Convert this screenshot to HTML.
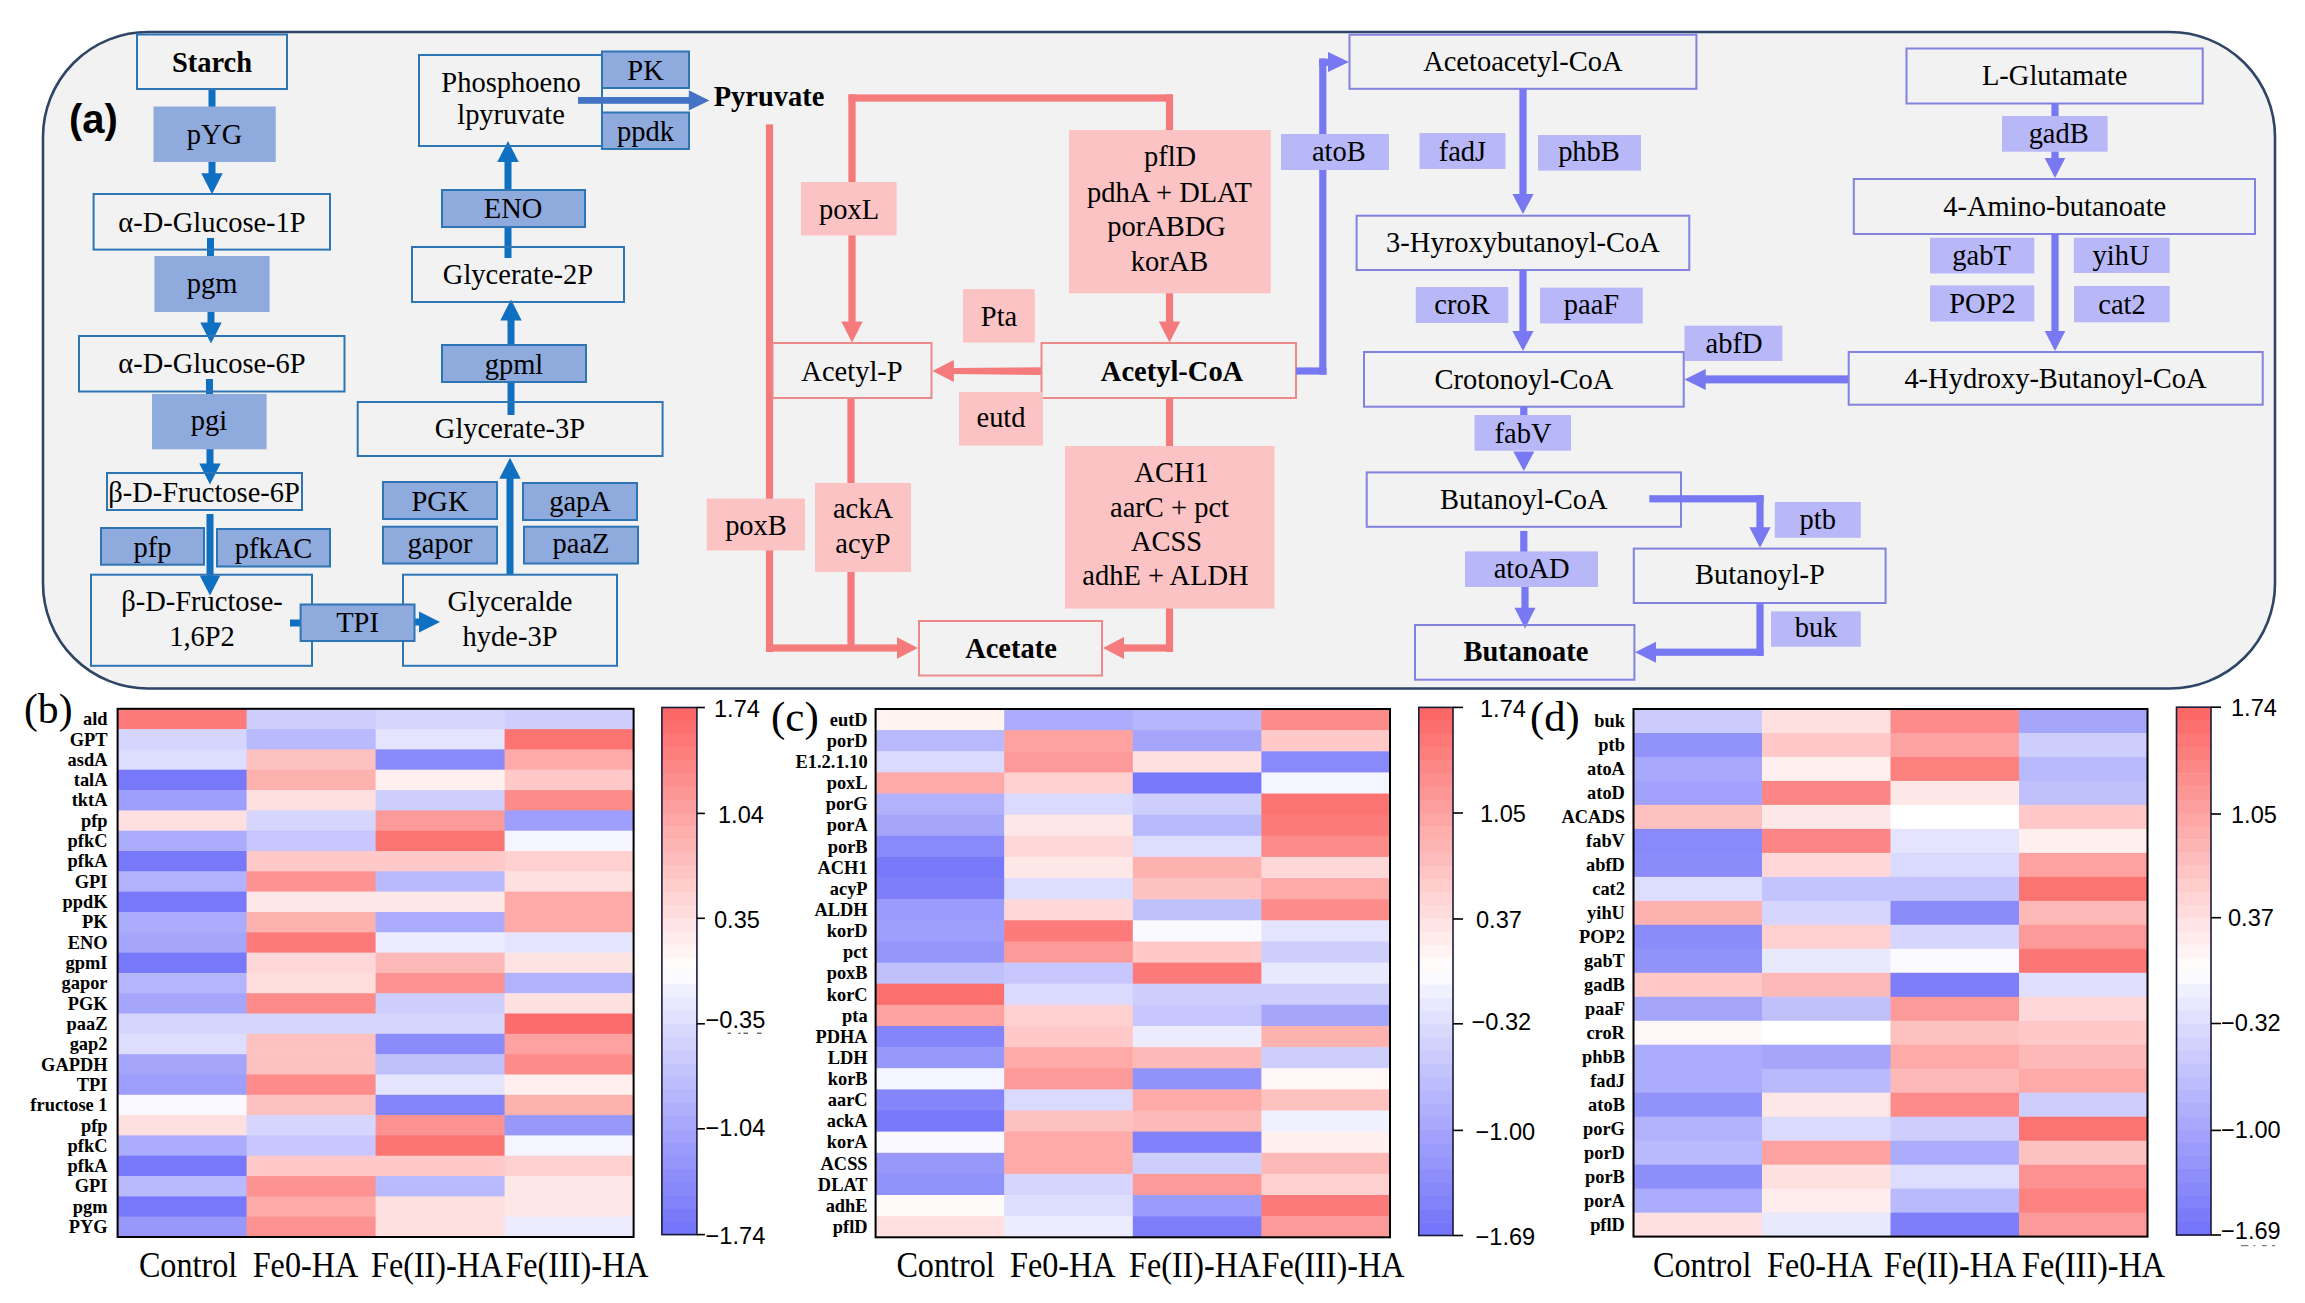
<!DOCTYPE html>
<html><head><meta charset="utf-8"><style>
html,body{margin:0;padding:0;background:#fff;}
body{width:2305px;height:1303px;overflow:hidden;}
svg{display:block;}
</style></head><body>
<svg width="2305" height="1303" viewBox="0 0 2305 1303">
<rect x="0" y="0" width="2305" height="1303" fill="#ffffff"/>
<rect x="43" y="32" width="2232" height="656.5" rx="105" ry="105" fill="#f2f2f2" stroke="#2e4566" stroke-width="2.6"/>
<text x="69" y="133" font-family="Liberation Sans" font-size="40" font-weight="bold" fill="#000">(a)</text>
<rect x="208.5" y="89.0" width="7.0" height="18.0" fill="#0f6fc0"/>
<rect x="208.5" y="162.0" width="7.0" height="13.0" fill="#0f6fc0"/>
<polygon points="212.0,194.3 201.3,173.3 222.7,173.3" fill="#0f6fc0"/>
<rect x="207.0" y="238.0" width="7.0" height="18.0" fill="#0f6fc0"/>
<rect x="207.5" y="312.0" width="7.0" height="12.0" fill="#0f6fc0"/>
<polygon points="211.0,343.4 200.3,322.4 221.7,322.4" fill="#0f6fc0"/>
<rect x="206.0" y="379.0" width="7.0" height="15.0" fill="#0f6fc0"/>
<rect x="206.5" y="449.0" width="7.0" height="16.0" fill="#0f6fc0"/>
<polygon points="210.0,484.4 199.3,463.4 220.7,463.4" fill="#0f6fc0"/>
<rect x="206.5" y="514.0" width="7.0" height="63.0" fill="#0f6fc0"/>
<polygon points="210.0,595.5 199.7,575.5 220.3,575.5" fill="#0f6fc0"/>
<rect x="290.0" y="619.5" width="11.0" height="7.0" fill="#0f6fc0"/>
<rect x="414.0" y="618.5" width="6.0" height="7.0" fill="#0f6fc0"/>
<polygon points="440.0,622.0 419.0,611.4 419.0,632.6" fill="#0f6fc0"/>
<rect x="506.5" y="477.0" width="7.0" height="98.0" fill="#0f6fc0"/>
<polygon points="510.0,457.8 499.3,478.8 520.7,478.8" fill="#0f6fc0"/>
<rect x="507.5" y="382.0" width="7.0" height="33.0" fill="#0f6fc0"/>
<rect x="507.5" y="318.0" width="7.0" height="27.0" fill="#0f6fc0"/>
<polygon points="511.0,299.4 500.3,320.4 521.7,320.4" fill="#0f6fc0"/>
<rect x="504.5" y="227.0" width="7.0" height="31.0" fill="#0f6fc0"/>
<rect x="504.5" y="160.0" width="7.0" height="30.0" fill="#0f6fc0"/>
<polygon points="508.0,141.0 497.3,162.0 518.7,162.0" fill="#0f6fc0"/>
<rect x="137.0" y="34.5" width="150.0" height="54.5" fill="none" stroke="#2e75b6" stroke-width="2"/>
<text transform="translate(212.0,72.0) scale(1,1.07)" x="0" y="0" font-family="Liberation Serif" font-size="28.5" font-weight="bold" text-anchor="middle" fill="#000">Starch</text>
<rect x="153.5" y="106.5" width="122.2" height="55.5" fill="#8faadc" stroke="none" stroke-width="2"/>
<text transform="translate(214.5,144.3) scale(1,1.07)" x="0" y="0" font-family="Liberation Serif" font-size="28.5" font-weight="normal" text-anchor="middle" fill="#000">pYG</text>
<rect x="93.6" y="194.0" width="236.4" height="55.6" fill="none" stroke="#2e75b6" stroke-width="2"/>
<text transform="translate(212.0,231.5) scale(1,1.07)" x="0" y="0" font-family="Liberation Serif" font-size="28.5" font-weight="normal" text-anchor="middle" fill="#000">α-D-Glucose-1P</text>
<rect x="154.4" y="256.0" width="115.2" height="56.0" fill="#8faadc" stroke="none" stroke-width="2"/>
<text transform="translate(212.0,293.2) scale(1,1.07)" x="0" y="0" font-family="Liberation Serif" font-size="28.5" font-weight="normal" text-anchor="middle" fill="#000">pgm</text>
<rect x="79.0" y="336.0" width="265.5" height="55.5" fill="none" stroke="#2e75b6" stroke-width="2"/>
<text transform="translate(212.0,373.0) scale(1,1.07)" x="0" y="0" font-family="Liberation Serif" font-size="28.5" font-weight="normal" text-anchor="middle" fill="#000">α-D-Glucose-6P</text>
<rect x="152.0" y="394.0" width="114.6" height="55.3" fill="#8faadc" stroke="none" stroke-width="2"/>
<text transform="translate(209.0,429.8) scale(1,1.07)" x="0" y="0" font-family="Liberation Serif" font-size="28.5" font-weight="normal" text-anchor="middle" fill="#000">pgi</text>
<rect x="107.0" y="473.0" width="195.0" height="37.0" fill="none" stroke="#2e75b6" stroke-width="2"/>
<text transform="translate(204.0,501.5) scale(1,1.07)" x="0" y="0" font-family="Liberation Serif" font-size="28.5" font-weight="normal" text-anchor="middle" fill="#000">β-D-Fructose-6P</text>
<rect x="101.0" y="528.0" width="103.0" height="36.7" fill="#8faadc" stroke="#2e75b6" stroke-width="2"/>
<text transform="translate(152.5,556.5) scale(1,1.07)" x="0" y="0" font-family="Liberation Serif" font-size="28.5" font-weight="normal" text-anchor="middle" fill="#000">pfp</text>
<rect x="217.0" y="529.0" width="113.0" height="37.5" fill="#8faadc" stroke="#2e75b6" stroke-width="2"/>
<text transform="translate(273.5,558.0) scale(1,1.07)" x="0" y="0" font-family="Liberation Serif" font-size="28.5" font-weight="normal" text-anchor="middle" fill="#000">pfkAC</text>
<rect x="91.0" y="574.7" width="221.0" height="91.1" fill="none" stroke="#2e75b6" stroke-width="2"/>
<text transform="translate(202.0,611.0) scale(1,1.07)" x="0" y="0" font-family="Liberation Serif" font-size="28.5" font-weight="normal" text-anchor="middle" fill="#000">β-D-Fructose-</text>
<text transform="translate(202.0,646.0) scale(1,1.07)" x="0" y="0" font-family="Liberation Serif" font-size="28.5" font-weight="normal" text-anchor="middle" fill="#000">1,6P2</text>
<rect x="403.0" y="574.7" width="214.0" height="91.1" fill="none" stroke="#2e75b6" stroke-width="2"/>
<text transform="translate(510.0,611.0) scale(1,1.07)" x="0" y="0" font-family="Liberation Serif" font-size="28.5" font-weight="normal" text-anchor="middle" fill="#000">Glyceralde</text>
<text transform="translate(510.0,646.0) scale(1,1.07)" x="0" y="0" font-family="Liberation Serif" font-size="28.5" font-weight="normal" text-anchor="middle" fill="#000">hyde-3P</text>
<rect x="300.6" y="604.5" width="113.9" height="36.5" fill="#8faadc" stroke="#2e75b6" stroke-width="2"/>
<text transform="translate(357.5,632.4) scale(1,1.07)" x="0" y="0" font-family="Liberation Serif" font-size="28.5" font-weight="normal" text-anchor="middle" fill="#000">TPI</text>
<rect x="383.0" y="482.0" width="114.0" height="37.0" fill="#8faadc" stroke="#2e75b6" stroke-width="2"/>
<text transform="translate(440.0,511.0) scale(1,1.07)" x="0" y="0" font-family="Liberation Serif" font-size="28.5" font-weight="normal" text-anchor="middle" fill="#000">PGK</text>
<rect x="383.0" y="526.7" width="114.0" height="36.8" fill="#8faadc" stroke="#2e75b6" stroke-width="2"/>
<text transform="translate(440.0,553.0) scale(1,1.07)" x="0" y="0" font-family="Liberation Serif" font-size="28.5" font-weight="normal" text-anchor="middle" fill="#000">gapor</text>
<rect x="523.0" y="483.0" width="114.0" height="37.0" fill="#8faadc" stroke="#2e75b6" stroke-width="2"/>
<text transform="translate(580.0,511.0) scale(1,1.07)" x="0" y="0" font-family="Liberation Serif" font-size="28.5" font-weight="normal" text-anchor="middle" fill="#000">gapA</text>
<rect x="524.0" y="526.7" width="114.0" height="36.8" fill="#8faadc" stroke="#2e75b6" stroke-width="2"/>
<text transform="translate(581.0,553.0) scale(1,1.07)" x="0" y="0" font-family="Liberation Serif" font-size="28.5" font-weight="normal" text-anchor="middle" fill="#000">paaZ</text>
<rect x="357.7" y="402.0" width="304.9" height="54.0" fill="none" stroke="#2e75b6" stroke-width="2"/>
<text transform="translate(510.0,438.0) scale(1,1.07)" x="0" y="0" font-family="Liberation Serif" font-size="28.5" font-weight="normal" text-anchor="middle" fill="#000">Glycerate-3P</text>
<rect x="442.0" y="345.0" width="144.0" height="37.0" fill="#8faadc" stroke="#2e75b6" stroke-width="2"/>
<text transform="translate(514.0,374.0) scale(1,1.07)" x="0" y="0" font-family="Liberation Serif" font-size="28.5" font-weight="normal" text-anchor="middle" fill="#000">gpml</text>
<rect x="412.0" y="247.0" width="212.0" height="55.0" fill="none" stroke="#2e75b6" stroke-width="2"/>
<text transform="translate(518.0,284.0) scale(1,1.07)" x="0" y="0" font-family="Liberation Serif" font-size="28.5" font-weight="normal" text-anchor="middle" fill="#000">Glycerate-2P</text>
<rect x="442.0" y="190.0" width="143.0" height="37.0" fill="#8faadc" stroke="#2e75b6" stroke-width="2"/>
<text transform="translate(513.0,218.0) scale(1,1.07)" x="0" y="0" font-family="Liberation Serif" font-size="28.5" font-weight="normal" text-anchor="middle" fill="#000">ENO</text>
<rect x="419.0" y="55.0" width="183.0" height="91.0" fill="none" stroke="#2e75b6" stroke-width="2"/>
<text transform="translate(511.0,92.0) scale(1,1.07)" x="0" y="0" font-family="Liberation Serif" font-size="28.5" font-weight="normal" text-anchor="middle" fill="#000">Phosphoeno</text>
<text transform="translate(511.0,124.3) scale(1,1.07)" x="0" y="0" font-family="Liberation Serif" font-size="28.5" font-weight="normal" text-anchor="middle" fill="#000">lpyruvate</text>
<rect x="602.0" y="51.5" width="87.0" height="36.5" fill="#8faadc" stroke="#2e75b6" stroke-width="2"/>
<text transform="translate(645.5,79.8) scale(1,1.07)" x="0" y="0" font-family="Liberation Serif" font-size="28.5" font-weight="normal" text-anchor="middle" fill="#000">PK</text>
<rect x="602.0" y="112.5" width="87.0" height="36.5" fill="#8faadc" stroke="#2e75b6" stroke-width="2"/>
<text transform="translate(645.5,140.5) scale(1,1.07)" x="0" y="0" font-family="Liberation Serif" font-size="28.5" font-weight="normal" text-anchor="middle" fill="#000">ppdk</text>
<rect x="578.0" y="97.0" width="112.0" height="6.8" fill="#4472c4"/>
<polygon points="709.4,100.4 688.8,90.2 688.8,110.6" fill="#4472c4"/>
<text transform="translate(713.7,106.2) scale(1,1.07)" x="0" y="0" font-family="Liberation Serif" font-size="28.5" font-weight="bold" text-anchor="start" fill="#000">Pyruvate</text>
<rect x="765.9" y="124.4" width="7.2" height="527.6" fill="#f47a7b"/>
<rect x="766.0" y="644.4" width="132.0" height="7.2" fill="#f47a7b"/>
<polygon points="918.0,648.0 897.0,637.2 897.0,658.8" fill="#f47a7b"/>
<rect x="848.6" y="94.4" width="324.4" height="7.2" fill="#f47a7b"/>
<rect x="848.4" y="94.4" width="7.2" height="87.6" fill="#f47a7b"/>
<rect x="1165.9" y="94.4" width="7.2" height="35.6" fill="#f47a7b"/>
<rect x="848.4" y="235.0" width="7.2" height="87.0" fill="#f47a7b"/>
<polygon points="852.0,342.6 841.3,321.6 862.7,321.6" fill="#f47a7b"/>
<rect x="1165.9" y="293.0" width="7.2" height="29.0" fill="#f47a7b"/>
<polygon points="1169.5,342.6 1158.8,321.6 1180.2,321.6" fill="#f47a7b"/>
<polygon points="953,368 1042,367.2 1042,375 953,374" fill="#f47a7b"/>
<polygon points="932.4,371.0 953.9,360.0 953.9,382.0" fill="#f47a7b"/>
<rect x="1165.9" y="398.0" width="7.2" height="48.0" fill="#f47a7b"/>
<rect x="1165.9" y="608.0" width="7.2" height="44.0" fill="#f47a7b"/>
<rect x="1124.0" y="644.4" width="49.0" height="7.2" fill="#f47a7b"/>
<polygon points="1103.0,648.0 1124.0,637.0 1124.0,659.0" fill="#f47a7b"/>
<rect x="847.4" y="398.0" width="7.2" height="248.0" fill="#f47a7b"/>
<rect x="706.8" y="498.6" width="98.2" height="51.9" fill="#fbc3c4" stroke="none" stroke-width="2"/>
<text transform="translate(756.0,534.5) scale(1,1.07)" x="0" y="0" font-family="Liberation Serif" font-size="28.5" font-weight="normal" text-anchor="middle" fill="#000">poxB</text>
<rect x="801.0" y="182.0" width="95.6" height="53.5" fill="#fbc3c4" stroke="none" stroke-width="2"/>
<text transform="translate(849.0,218.5) scale(1,1.07)" x="0" y="0" font-family="Liberation Serif" font-size="28.5" font-weight="normal" text-anchor="middle" fill="#000">poxL</text>
<rect x="1069.0" y="130.0" width="201.8" height="163.3" fill="#fbc3c4" stroke="none" stroke-width="2"/>
<text transform="translate(1170.0,166.4) scale(1,1.07)" x="0" y="0" font-family="Liberation Serif" font-size="28.5" font-weight="normal" text-anchor="middle" fill="#000">pflD</text>
<text transform="translate(1169.5,201.6) scale(1,1.07)" x="0" y="0" font-family="Liberation Serif" font-size="28.5" font-weight="normal" text-anchor="middle" fill="#000">pdhA + DLAT</text>
<text transform="translate(1166.5,235.5) scale(1,1.07)" x="0" y="0" font-family="Liberation Serif" font-size="28.5" font-weight="normal" text-anchor="middle" fill="#000">porABDG</text>
<text transform="translate(1169.5,270.7) scale(1,1.07)" x="0" y="0" font-family="Liberation Serif" font-size="28.5" font-weight="normal" text-anchor="middle" fill="#000">korAB</text>
<rect x="963.0" y="289.0" width="71.8" height="53.6" fill="#fbc3c4" stroke="none" stroke-width="2"/>
<text transform="translate(999.0,325.7) scale(1,1.07)" x="0" y="0" font-family="Liberation Serif" font-size="28.5" font-weight="normal" text-anchor="middle" fill="#000">Pta</text>
<rect x="772.5" y="343.0" width="159.0" height="55.0" fill="none" stroke="#ec8a8b" stroke-width="2"/>
<text transform="translate(852.0,380.8) scale(1,1.07)" x="0" y="0" font-family="Liberation Serif" font-size="28.5" font-weight="normal" text-anchor="middle" fill="#000">Acetyl-P</text>
<rect x="1041.5" y="343.0" width="254.5" height="55.0" fill="none" stroke="#ec8a8b" stroke-width="2"/>
<text transform="translate(1172.0,380.8) scale(1,1.07)" x="0" y="0" font-family="Liberation Serif" font-size="28.5" font-weight="bold" text-anchor="middle" fill="#000">Acetyl-CoA</text>
<rect x="959.0" y="392.0" width="84.0" height="53.6" fill="#fbc3c4" stroke="none" stroke-width="2"/>
<text transform="translate(1001.0,427.3) scale(1,1.07)" x="0" y="0" font-family="Liberation Serif" font-size="28.5" font-weight="normal" text-anchor="middle" fill="#000">eutd</text>
<rect x="1065.0" y="446.0" width="209.5" height="162.6" fill="#fbc3c4" stroke="none" stroke-width="2"/>
<text transform="translate(1171.5,482.0) scale(1,1.07)" x="0" y="0" font-family="Liberation Serif" font-size="28.5" font-weight="normal" text-anchor="middle" fill="#000">ACH1</text>
<text transform="translate(1169.5,516.7) scale(1,1.07)" x="0" y="0" font-family="Liberation Serif" font-size="28.5" font-weight="normal" text-anchor="middle" fill="#000">aarC + pct</text>
<text transform="translate(1166.5,551.4) scale(1,1.07)" x="0" y="0" font-family="Liberation Serif" font-size="28.5" font-weight="normal" text-anchor="middle" fill="#000">ACSS</text>
<text transform="translate(1165.5,585.0) scale(1,1.07)" x="0" y="0" font-family="Liberation Serif" font-size="28.5" font-weight="normal" text-anchor="middle" fill="#000">adhE + ALDH</text>
<rect x="919.0" y="621.0" width="183.0" height="54.5" fill="none" stroke="#ec8a8b" stroke-width="2"/>
<text transform="translate(1011.0,658.0) scale(1,1.07)" x="0" y="0" font-family="Liberation Serif" font-size="28.5" font-weight="bold" text-anchor="middle" fill="#000">Acetate</text>
<rect x="815.0" y="483.0" width="96.0" height="89.0" fill="#fbc3c4" stroke="none" stroke-width="2"/>
<text transform="translate(863.0,518.4) scale(1,1.07)" x="0" y="0" font-family="Liberation Serif" font-size="28.5" font-weight="normal" text-anchor="middle" fill="#000">ackA</text>
<text transform="translate(863.0,552.8) scale(1,1.07)" x="0" y="0" font-family="Liberation Serif" font-size="28.5" font-weight="normal" text-anchor="middle" fill="#000">acyP</text>
<rect x="1296.0" y="367.4" width="30.5" height="7.2" fill="#7878f2"/>
<rect x="1319.2" y="58.5" width="7.2" height="316.1" fill="#7878f2"/>
<rect x="1319.2" y="58.7" width="10.8" height="7.2" fill="#7878f2"/>
<polygon points="1349.0,62.0 1328.0,52.0 1328.0,72.0" fill="#7878f2"/>
<rect x="1281.0" y="134.0" width="108.0" height="36.0" fill="#b8b8f8" stroke="none" stroke-width="2"/>
<text transform="translate(1338.8,160.7) scale(1,1.07)" x="0" y="0" font-family="Liberation Serif" font-size="28.5" font-weight="normal" text-anchor="middle" fill="#000">atoB</text>
<rect x="1349.5" y="34.7" width="346.9" height="54.1" fill="none" stroke="#8282df" stroke-width="2"/>
<text transform="translate(1522.8,70.5) scale(1,1.07)" x="0" y="0" font-family="Liberation Serif" font-size="28.5" font-weight="normal" text-anchor="middle" fill="#000">Acetoacetyl-CoA</text>
<rect x="1419.5" y="133.0" width="86.0" height="36.0" fill="#b8b8f8" stroke="none" stroke-width="2"/>
<text transform="translate(1462.4,160.7) scale(1,1.07)" x="0" y="0" font-family="Liberation Serif" font-size="28.5" font-weight="normal" text-anchor="middle" fill="#000">fadJ</text>
<rect x="1538.0" y="135.0" width="103.0" height="35.6" fill="#b8b8f8" stroke="none" stroke-width="2"/>
<text transform="translate(1589.0,160.7) scale(1,1.07)" x="0" y="0" font-family="Liberation Serif" font-size="28.5" font-weight="normal" text-anchor="middle" fill="#000">phbB</text>
<rect x="1519.4" y="88.8" width="7.2" height="106.2" fill="#7878f2"/>
<polygon points="1523.0,214.0 1512.4,194.0 1533.6,194.0" fill="#7878f2"/>
<rect x="1356.6" y="215.7" width="332.7" height="54.3" fill="none" stroke="#8282df" stroke-width="2"/>
<text transform="translate(1523.0,251.5) scale(1,1.07)" x="0" y="0" font-family="Liberation Serif" font-size="28.5" font-weight="normal" text-anchor="middle" fill="#000">3-Hyroxybutanoyl-CoA</text>
<rect x="1415.8" y="287.0" width="92.5" height="36.0" fill="#b8b8f8" stroke="none" stroke-width="2"/>
<text transform="translate(1462.0,314.4) scale(1,1.07)" x="0" y="0" font-family="Liberation Serif" font-size="28.5" font-weight="normal" text-anchor="middle" fill="#000">croR</text>
<rect x="1540.0" y="287.6" width="102.8" height="35.9" fill="#b8b8f8" stroke="none" stroke-width="2"/>
<text transform="translate(1591.5,314.4) scale(1,1.07)" x="0" y="0" font-family="Liberation Serif" font-size="28.5" font-weight="normal" text-anchor="middle" fill="#000">paaF</text>
<rect x="1519.4" y="270.0" width="7.2" height="62.0" fill="#7878f2"/>
<polygon points="1523.0,351.0 1512.4,331.0 1533.6,331.0" fill="#7878f2"/>
<rect x="1684.5" y="325.7" width="97.9" height="35.3" fill="#b8b8f8" stroke="none" stroke-width="2"/>
<text transform="translate(1734.0,352.6) scale(1,1.07)" x="0" y="0" font-family="Liberation Serif" font-size="28.5" font-weight="normal" text-anchor="middle" fill="#000">abfD</text>
<rect x="1364.0" y="352.0" width="319.7" height="54.7" fill="none" stroke="#8282df" stroke-width="2"/>
<text transform="translate(1524.0,388.7) scale(1,1.07)" x="0" y="0" font-family="Liberation Serif" font-size="28.5" font-weight="normal" text-anchor="middle" fill="#000">Crotonoyl-CoA</text>
<rect x="1705.0" y="375.4" width="143.7" height="8.0" fill="#7878f2"/>
<polygon points="1684.5,379.4 1705.7,368.9 1705.7,389.9" fill="#7878f2"/>
<rect x="1848.7" y="352.0" width="414.0" height="52.7" fill="none" stroke="#8282df" stroke-width="2"/>
<text transform="translate(2055.5,387.8) scale(1,1.07)" x="0" y="0" font-family="Liberation Serif" font-size="28.5" font-weight="normal" text-anchor="middle" fill="#000">4-Hydroxy-Butanoyl-CoA</text>
<rect x="1520.2" y="406.7" width="7.2" height="8.3" fill="#7878f2"/>
<rect x="1474.5" y="415.0" width="96.5" height="35.7" fill="#b8b8f8" stroke="none" stroke-width="2"/>
<text transform="translate(1523.0,442.8) scale(1,1.07)" x="0" y="0" font-family="Liberation Serif" font-size="28.5" font-weight="normal" text-anchor="middle" fill="#000">fabV</text>
<polygon points="1523.8,471.0 1513.3,451.5 1534.3,451.5" fill="#7878f2"/>
<rect x="1366.7" y="472.4" width="314.3" height="54.4" fill="none" stroke="#8282df" stroke-width="2"/>
<text transform="translate(1523.8,509.0) scale(1,1.07)" x="0" y="0" font-family="Liberation Serif" font-size="28.5" font-weight="normal" text-anchor="middle" fill="#000">Butanoyl-CoA</text>
<rect x="1649.3" y="495.2" width="114.3" height="7.2" fill="#7878f2"/>
<rect x="1756.4" y="495.2" width="7.2" height="32.8" fill="#7878f2"/>
<polygon points="1760.0,547.7 1749.4,527.2 1770.6,527.2" fill="#7878f2"/>
<rect x="1774.8" y="502.0" width="86.0" height="35.8" fill="#b8b8f8" stroke="none" stroke-width="2"/>
<text transform="translate(1817.7,528.8) scale(1,1.07)" x="0" y="0" font-family="Liberation Serif" font-size="28.5" font-weight="normal" text-anchor="middle" fill="#000">ptb</text>
<rect x="1520.2" y="531.0" width="7.2" height="21.0" fill="#7878f2"/>
<rect x="1465.0" y="551.4" width="133.0" height="35.6" fill="#b8b8f8" stroke="none" stroke-width="2"/>
<text transform="translate(1531.7,578.2) scale(1,1.07)" x="0" y="0" font-family="Liberation Serif" font-size="28.5" font-weight="normal" text-anchor="middle" fill="#000">atoAD</text>
<rect x="1521.4" y="587.0" width="7.2" height="21.0" fill="#7878f2"/>
<polygon points="1525.0,628.4 1514.5,607.8 1535.5,607.8" fill="#7878f2"/>
<rect x="1415.0" y="625.0" width="219.4" height="54.7" fill="none" stroke="#8282df" stroke-width="2"/>
<text transform="translate(1525.9,661.4) scale(1,1.07)" x="0" y="0" font-family="Liberation Serif" font-size="28.5" font-weight="bold" text-anchor="middle" fill="#000">Butanoate</text>
<rect x="1633.8" y="548.6" width="251.8" height="54.4" fill="none" stroke="#8282df" stroke-width="2"/>
<text transform="translate(1760.0,583.8) scale(1,1.07)" x="0" y="0" font-family="Liberation Serif" font-size="28.5" font-weight="normal" text-anchor="middle" fill="#000">Butanoyl-P</text>
<rect x="1756.4" y="603.0" width="7.2" height="52.8" fill="#7878f2"/>
<rect x="1656.0" y="648.6" width="107.6" height="7.2" fill="#7878f2"/>
<polygon points="1635.0,652.2 1656.0,641.7 1656.0,662.7" fill="#7878f2"/>
<rect x="1771.0" y="611.4" width="89.8" height="35.3" fill="#b8b8f8" stroke="none" stroke-width="2"/>
<text transform="translate(1816.0,637.4) scale(1,1.07)" x="0" y="0" font-family="Liberation Serif" font-size="28.5" font-weight="normal" text-anchor="middle" fill="#000">buk</text>
<rect x="1906.5" y="48.5" width="296.2" height="55.0" fill="none" stroke="#8282df" stroke-width="2"/>
<text transform="translate(2054.7,84.6) scale(1,1.07)" x="0" y="0" font-family="Liberation Serif" font-size="28.5" font-weight="normal" text-anchor="middle" fill="#000">L-Glutamate</text>
<rect x="2051.4" y="103.5" width="7.2" height="12.5" fill="#7878f2"/>
<rect x="2002.0" y="116.0" width="105.6" height="35.7" fill="#b8b8f8" stroke="none" stroke-width="2"/>
<text transform="translate(2058.7,143.3) scale(1,1.07)" x="0" y="0" font-family="Liberation Serif" font-size="28.5" font-weight="normal" text-anchor="middle" fill="#000">gadB</text>
<rect x="2051.4" y="151.7" width="7.2" height="7.3" fill="#7878f2"/>
<polygon points="2055.0,178.0 2044.7,158.0 2065.3,158.0" fill="#7878f2"/>
<rect x="1853.8" y="179.0" width="401.2" height="55.0" fill="none" stroke="#8282df" stroke-width="2"/>
<text transform="translate(2054.7,215.7) scale(1,1.07)" x="0" y="0" font-family="Liberation Serif" font-size="28.5" font-weight="normal" text-anchor="middle" fill="#000">4-Amino-butanoate</text>
<rect x="2051.4" y="234.0" width="7.2" height="98.0" fill="#7878f2"/>
<polygon points="2055.0,351.0 2044.7,331.0 2065.3,331.0" fill="#7878f2"/>
<rect x="1930.0" y="237.7" width="104.3" height="35.8" fill="#b8b8f8" stroke="none" stroke-width="2"/>
<text transform="translate(1981.6,265.0) scale(1,1.07)" x="0" y="0" font-family="Liberation Serif" font-size="28.5" font-weight="normal" text-anchor="middle" fill="#000">gabT</text>
<rect x="2073.8" y="237.7" width="95.9" height="35.3" fill="#b8b8f8" stroke="none" stroke-width="2"/>
<text transform="translate(2121.0,265.0) scale(1,1.07)" x="0" y="0" font-family="Liberation Serif" font-size="28.5" font-weight="normal" text-anchor="middle" fill="#000">yihU</text>
<rect x="1930.0" y="285.4" width="104.3" height="36.1" fill="#b8b8f8" stroke="none" stroke-width="2"/>
<text transform="translate(1982.5,312.5) scale(1,1.07)" x="0" y="0" font-family="Liberation Serif" font-size="28.5" font-weight="normal" text-anchor="middle" fill="#000">POP2</text>
<rect x="2074.0" y="286.0" width="95.7" height="36.3" fill="#b8b8f8" stroke="none" stroke-width="2"/>
<text transform="translate(2122.0,313.6) scale(1,1.07)" x="0" y="0" font-family="Liberation Serif" font-size="28.5" font-weight="normal" text-anchor="middle" fill="#000">cat2</text>
<rect x="117.6" y="708.8" width="129.6" height="20.9" fill="#fc7b7a" stroke="none" stroke-width="2"/>
<rect x="246.6" y="708.8" width="129.6" height="20.9" fill="#cecefd" stroke="none" stroke-width="2"/>
<rect x="375.6" y="708.8" width="129.6" height="20.9" fill="#d5d5fe" stroke="none" stroke-width="2"/>
<rect x="504.6" y="708.8" width="129.6" height="20.9" fill="#cecefd" stroke="none" stroke-width="2"/>
<text transform="translate(107.5,725.2) scale(1,1.05)" x="0" y="0" font-family="Liberation Serif" font-size="18.4" font-weight="bold" text-anchor="end" fill="#000">ald</text>
<rect x="117.6" y="729.1" width="129.6" height="20.9" fill="#d5d5fe" stroke="none" stroke-width="2"/>
<rect x="246.6" y="729.1" width="129.6" height="20.9" fill="#b9b9fd" stroke="none" stroke-width="2"/>
<rect x="375.6" y="729.1" width="129.6" height="20.9" fill="#e4e4fe" stroke="none" stroke-width="2"/>
<rect x="504.6" y="729.1" width="129.6" height="20.9" fill="#fb7472" stroke="none" stroke-width="2"/>
<text transform="translate(107.5,745.5) scale(1,1.05)" x="0" y="0" font-family="Liberation Serif" font-size="18.4" font-weight="bold" text-anchor="end" fill="#000">GPT</text>
<rect x="117.6" y="749.4" width="129.6" height="20.9" fill="#ddddfe" stroke="none" stroke-width="2"/>
<rect x="246.6" y="749.4" width="129.6" height="20.9" fill="#fdc1c0" stroke="none" stroke-width="2"/>
<rect x="375.6" y="749.4" width="129.6" height="20.9" fill="#8989fb" stroke="none" stroke-width="2"/>
<rect x="504.6" y="749.4" width="129.6" height="20.9" fill="#fdaaa9" stroke="none" stroke-width="2"/>
<text transform="translate(107.5,765.8) scale(1,1.05)" x="0" y="0" font-family="Liberation Serif" font-size="18.4" font-weight="bold" text-anchor="end" fill="#000">asdA</text>
<rect x="117.6" y="769.7" width="129.6" height="20.9" fill="#7878fa" stroke="none" stroke-width="2"/>
<rect x="246.6" y="769.7" width="129.6" height="20.9" fill="#fdb2b0" stroke="none" stroke-width="2"/>
<rect x="375.6" y="769.7" width="129.6" height="20.9" fill="#fff0ef" stroke="none" stroke-width="2"/>
<rect x="504.6" y="769.7" width="129.6" height="20.9" fill="#fec9c8" stroke="none" stroke-width="2"/>
<text transform="translate(107.5,786.1) scale(1,1.05)" x="0" y="0" font-family="Liberation Serif" font-size="18.4" font-weight="bold" text-anchor="end" fill="#000">talA</text>
<rect x="117.6" y="790.1" width="129.6" height="20.9" fill="#9e9efc" stroke="none" stroke-width="2"/>
<rect x="246.6" y="790.1" width="129.6" height="20.9" fill="#fee0e0" stroke="none" stroke-width="2"/>
<rect x="375.6" y="790.1" width="129.6" height="20.9" fill="#cecefd" stroke="none" stroke-width="2"/>
<rect x="504.6" y="790.1" width="129.6" height="20.9" fill="#fc8b89" stroke="none" stroke-width="2"/>
<text transform="translate(107.5,806.4) scale(1,1.05)" x="0" y="0" font-family="Liberation Serif" font-size="18.4" font-weight="bold" text-anchor="end" fill="#000">tktA</text>
<rect x="117.6" y="810.4" width="129.6" height="20.9" fill="#fee0e0" stroke="none" stroke-width="2"/>
<rect x="246.6" y="810.4" width="129.6" height="20.9" fill="#d5d5fe" stroke="none" stroke-width="2"/>
<rect x="375.6" y="810.4" width="129.6" height="20.9" fill="#fc9a99" stroke="none" stroke-width="2"/>
<rect x="504.6" y="810.4" width="129.6" height="20.9" fill="#9e9efc" stroke="none" stroke-width="2"/>
<text transform="translate(107.5,826.7) scale(1,1.05)" x="0" y="0" font-family="Liberation Serif" font-size="18.4" font-weight="bold" text-anchor="end" fill="#000">pfp</text>
<rect x="117.6" y="830.7" width="129.6" height="20.9" fill="#acacfc" stroke="none" stroke-width="2"/>
<rect x="246.6" y="830.7" width="129.6" height="20.9" fill="#c7c7fd" stroke="none" stroke-width="2"/>
<rect x="375.6" y="830.7" width="129.6" height="20.9" fill="#fb7472" stroke="none" stroke-width="2"/>
<rect x="504.6" y="830.7" width="129.6" height="20.9" fill="#f5f5ff" stroke="none" stroke-width="2"/>
<text transform="translate(107.5,847.0) scale(1,1.05)" x="0" y="0" font-family="Liberation Serif" font-size="18.4" font-weight="bold" text-anchor="end" fill="#000">pfkC</text>
<rect x="117.6" y="851.0" width="129.6" height="20.9" fill="#7878fa" stroke="none" stroke-width="2"/>
<rect x="246.6" y="851.0" width="129.6" height="20.9" fill="#fec9c8" stroke="none" stroke-width="2"/>
<rect x="375.6" y="851.0" width="129.6" height="20.9" fill="#fec9c8" stroke="none" stroke-width="2"/>
<rect x="504.6" y="851.0" width="129.6" height="20.9" fill="#fed0d0" stroke="none" stroke-width="2"/>
<text transform="translate(107.5,867.4) scale(1,1.05)" x="0" y="0" font-family="Liberation Serif" font-size="18.4" font-weight="bold" text-anchor="end" fill="#000">pfkA</text>
<rect x="117.6" y="871.3" width="129.6" height="20.9" fill="#b2b2fc" stroke="none" stroke-width="2"/>
<rect x="246.6" y="871.3" width="129.6" height="20.9" fill="#fc9291" stroke="none" stroke-width="2"/>
<rect x="375.6" y="871.3" width="129.6" height="20.9" fill="#b9b9fd" stroke="none" stroke-width="2"/>
<rect x="504.6" y="871.3" width="129.6" height="20.9" fill="#fee0e0" stroke="none" stroke-width="2"/>
<text transform="translate(107.5,887.7) scale(1,1.05)" x="0" y="0" font-family="Liberation Serif" font-size="18.4" font-weight="bold" text-anchor="end" fill="#000">GPI</text>
<rect x="117.6" y="891.6" width="129.6" height="20.9" fill="#7878fa" stroke="none" stroke-width="2"/>
<rect x="246.6" y="891.6" width="129.6" height="20.9" fill="#fee8e7" stroke="none" stroke-width="2"/>
<rect x="375.6" y="891.6" width="129.6" height="20.9" fill="#fee8e7" stroke="none" stroke-width="2"/>
<rect x="504.6" y="891.6" width="129.6" height="20.9" fill="#fdaaa9" stroke="none" stroke-width="2"/>
<text transform="translate(107.5,908.0) scale(1,1.05)" x="0" y="0" font-family="Liberation Serif" font-size="18.4" font-weight="bold" text-anchor="end" fill="#000">ppdK</text>
<rect x="117.6" y="912.0" width="129.6" height="20.9" fill="#acacfc" stroke="none" stroke-width="2"/>
<rect x="246.6" y="912.0" width="129.6" height="20.9" fill="#fdb2b0" stroke="none" stroke-width="2"/>
<rect x="375.6" y="912.0" width="129.6" height="20.9" fill="#acacfc" stroke="none" stroke-width="2"/>
<rect x="504.6" y="912.0" width="129.6" height="20.9" fill="#fdaaa9" stroke="none" stroke-width="2"/>
<text transform="translate(107.5,928.3) scale(1,1.05)" x="0" y="0" font-family="Liberation Serif" font-size="18.4" font-weight="bold" text-anchor="end" fill="#000">PK</text>
<rect x="117.6" y="932.3" width="129.6" height="20.9" fill="#a5a5fc" stroke="none" stroke-width="2"/>
<rect x="246.6" y="932.3" width="129.6" height="20.9" fill="#fc7b7a" stroke="none" stroke-width="2"/>
<rect x="375.6" y="932.3" width="129.6" height="20.9" fill="#ececfe" stroke="none" stroke-width="2"/>
<rect x="504.6" y="932.3" width="129.6" height="20.9" fill="#e4e4fe" stroke="none" stroke-width="2"/>
<text transform="translate(107.5,948.6) scale(1,1.05)" x="0" y="0" font-family="Liberation Serif" font-size="18.4" font-weight="bold" text-anchor="end" fill="#000">ENO</text>
<rect x="117.6" y="952.6" width="129.6" height="20.9" fill="#7878fa" stroke="none" stroke-width="2"/>
<rect x="246.6" y="952.6" width="129.6" height="20.9" fill="#fed8d8" stroke="none" stroke-width="2"/>
<rect x="375.6" y="952.6" width="129.6" height="20.9" fill="#fdb9b8" stroke="none" stroke-width="2"/>
<rect x="504.6" y="952.6" width="129.6" height="20.9" fill="#fee3e3" stroke="none" stroke-width="2"/>
<text transform="translate(107.5,968.9) scale(1,1.05)" x="0" y="0" font-family="Liberation Serif" font-size="18.4" font-weight="bold" text-anchor="end" fill="#000">gpmI</text>
<rect x="117.6" y="972.9" width="129.6" height="20.9" fill="#b5b5fc" stroke="none" stroke-width="2"/>
<rect x="246.6" y="972.9" width="129.6" height="20.9" fill="#fedddc" stroke="none" stroke-width="2"/>
<rect x="375.6" y="972.9" width="129.6" height="20.9" fill="#fc9291" stroke="none" stroke-width="2"/>
<rect x="504.6" y="972.9" width="129.6" height="20.9" fill="#b2b2fc" stroke="none" stroke-width="2"/>
<text transform="translate(107.5,989.3) scale(1,1.05)" x="0" y="0" font-family="Liberation Serif" font-size="18.4" font-weight="bold" text-anchor="end" fill="#000">gapor</text>
<rect x="117.6" y="993.2" width="129.6" height="20.9" fill="#a5a5fc" stroke="none" stroke-width="2"/>
<rect x="246.6" y="993.2" width="129.6" height="20.9" fill="#fc8b89" stroke="none" stroke-width="2"/>
<rect x="375.6" y="993.2" width="129.6" height="20.9" fill="#cecefd" stroke="none" stroke-width="2"/>
<rect x="504.6" y="993.2" width="129.6" height="20.9" fill="#fee0e0" stroke="none" stroke-width="2"/>
<text transform="translate(107.5,1009.6) scale(1,1.05)" x="0" y="0" font-family="Liberation Serif" font-size="18.4" font-weight="bold" text-anchor="end" fill="#000">PGK</text>
<rect x="117.6" y="1013.5" width="129.6" height="20.9" fill="#d5d5fe" stroke="none" stroke-width="2"/>
<rect x="246.6" y="1013.5" width="129.6" height="20.9" fill="#d5d5fe" stroke="none" stroke-width="2"/>
<rect x="375.6" y="1013.5" width="129.6" height="20.9" fill="#d5d5fe" stroke="none" stroke-width="2"/>
<rect x="504.6" y="1013.5" width="129.6" height="20.9" fill="#fb6c6a" stroke="none" stroke-width="2"/>
<text transform="translate(107.5,1029.9) scale(1,1.05)" x="0" y="0" font-family="Liberation Serif" font-size="18.4" font-weight="bold" text-anchor="end" fill="#000">paaZ</text>
<rect x="117.6" y="1033.8" width="129.6" height="20.9" fill="#ddddfe" stroke="none" stroke-width="2"/>
<rect x="246.6" y="1033.8" width="129.6" height="20.9" fill="#fdc1c0" stroke="none" stroke-width="2"/>
<rect x="375.6" y="1033.8" width="129.6" height="20.9" fill="#8b8bfb" stroke="none" stroke-width="2"/>
<rect x="504.6" y="1033.8" width="129.6" height="20.9" fill="#fda2a1" stroke="none" stroke-width="2"/>
<text transform="translate(107.5,1050.2) scale(1,1.05)" x="0" y="0" font-family="Liberation Serif" font-size="18.4" font-weight="bold" text-anchor="end" fill="#000">gap2</text>
<rect x="117.6" y="1054.2" width="129.6" height="20.9" fill="#a5a5fc" stroke="none" stroke-width="2"/>
<rect x="246.6" y="1054.2" width="129.6" height="20.9" fill="#fdc1c0" stroke="none" stroke-width="2"/>
<rect x="375.6" y="1054.2" width="129.6" height="20.9" fill="#c0c0fd" stroke="none" stroke-width="2"/>
<rect x="504.6" y="1054.2" width="129.6" height="20.9" fill="#fc8b89" stroke="none" stroke-width="2"/>
<text transform="translate(107.5,1070.5) scale(1,1.05)" x="0" y="0" font-family="Liberation Serif" font-size="18.4" font-weight="bold" text-anchor="end" fill="#000">GAPDH</text>
<rect x="117.6" y="1074.5" width="129.6" height="20.9" fill="#9e9efc" stroke="none" stroke-width="2"/>
<rect x="246.6" y="1074.5" width="129.6" height="20.9" fill="#fc8b89" stroke="none" stroke-width="2"/>
<rect x="375.6" y="1074.5" width="129.6" height="20.9" fill="#e4e4fe" stroke="none" stroke-width="2"/>
<rect x="504.6" y="1074.5" width="129.6" height="20.9" fill="#fff0ef" stroke="none" stroke-width="2"/>
<text transform="translate(107.5,1090.8) scale(1,1.05)" x="0" y="0" font-family="Liberation Serif" font-size="18.4" font-weight="bold" text-anchor="end" fill="#000">TPI</text>
<rect x="117.6" y="1094.8" width="129.6" height="20.9" fill="#f9f9ff" stroke="none" stroke-width="2"/>
<rect x="246.6" y="1094.8" width="129.6" height="20.9" fill="#fdc1c0" stroke="none" stroke-width="2"/>
<rect x="375.6" y="1094.8" width="129.6" height="20.9" fill="#8585fb" stroke="none" stroke-width="2"/>
<rect x="504.6" y="1094.8" width="129.6" height="20.9" fill="#fdb2b0" stroke="none" stroke-width="2"/>
<text transform="translate(107.5,1111.2) scale(1,1.05)" x="0" y="0" font-family="Liberation Serif" font-size="18.4" font-weight="bold" text-anchor="end" fill="#000">fructose 1</text>
<rect x="117.6" y="1115.1" width="129.6" height="20.9" fill="#fee0e0" stroke="none" stroke-width="2"/>
<rect x="246.6" y="1115.1" width="129.6" height="20.9" fill="#d5d5fe" stroke="none" stroke-width="2"/>
<rect x="375.6" y="1115.1" width="129.6" height="20.9" fill="#fc9291" stroke="none" stroke-width="2"/>
<rect x="504.6" y="1115.1" width="129.6" height="20.9" fill="#9898fb" stroke="none" stroke-width="2"/>
<text transform="translate(107.5,1131.5) scale(1,1.05)" x="0" y="0" font-family="Liberation Serif" font-size="18.4" font-weight="bold" text-anchor="end" fill="#000">pfp</text>
<rect x="117.6" y="1135.4" width="129.6" height="20.9" fill="#acacfc" stroke="none" stroke-width="2"/>
<rect x="246.6" y="1135.4" width="129.6" height="20.9" fill="#c7c7fd" stroke="none" stroke-width="2"/>
<rect x="375.6" y="1135.4" width="129.6" height="20.9" fill="#fb7472" stroke="none" stroke-width="2"/>
<rect x="504.6" y="1135.4" width="129.6" height="20.9" fill="#f5f5ff" stroke="none" stroke-width="2"/>
<text transform="translate(107.5,1151.8) scale(1,1.05)" x="0" y="0" font-family="Liberation Serif" font-size="18.4" font-weight="bold" text-anchor="end" fill="#000">pfkC</text>
<rect x="117.6" y="1155.7" width="129.6" height="20.9" fill="#7878fa" stroke="none" stroke-width="2"/>
<rect x="246.6" y="1155.7" width="129.6" height="20.9" fill="#fec9c8" stroke="none" stroke-width="2"/>
<rect x="375.6" y="1155.7" width="129.6" height="20.9" fill="#fec9c8" stroke="none" stroke-width="2"/>
<rect x="504.6" y="1155.7" width="129.6" height="20.9" fill="#fed0d0" stroke="none" stroke-width="2"/>
<text transform="translate(107.5,1172.1) scale(1,1.05)" x="0" y="0" font-family="Liberation Serif" font-size="18.4" font-weight="bold" text-anchor="end" fill="#000">pfkA</text>
<rect x="117.6" y="1176.1" width="129.6" height="20.9" fill="#b9b9fd" stroke="none" stroke-width="2"/>
<rect x="246.6" y="1176.1" width="129.6" height="20.9" fill="#fc9291" stroke="none" stroke-width="2"/>
<rect x="375.6" y="1176.1" width="129.6" height="20.9" fill="#b9b9fd" stroke="none" stroke-width="2"/>
<rect x="504.6" y="1176.1" width="129.6" height="20.9" fill="#fee8e7" stroke="none" stroke-width="2"/>
<text transform="translate(107.5,1192.4) scale(1,1.05)" x="0" y="0" font-family="Liberation Serif" font-size="18.4" font-weight="bold" text-anchor="end" fill="#000">GPI</text>
<rect x="117.6" y="1196.4" width="129.6" height="20.9" fill="#7878fa" stroke="none" stroke-width="2"/>
<rect x="246.6" y="1196.4" width="129.6" height="20.9" fill="#fdaaa9" stroke="none" stroke-width="2"/>
<rect x="375.6" y="1196.4" width="129.6" height="20.9" fill="#fee0e0" stroke="none" stroke-width="2"/>
<rect x="504.6" y="1196.4" width="129.6" height="20.9" fill="#fee8e7" stroke="none" stroke-width="2"/>
<text transform="translate(107.5,1212.7) scale(1,1.05)" x="0" y="0" font-family="Liberation Serif" font-size="18.4" font-weight="bold" text-anchor="end" fill="#000">pgm</text>
<rect x="117.6" y="1216.7" width="129.6" height="20.9" fill="#9898fb" stroke="none" stroke-width="2"/>
<rect x="246.6" y="1216.7" width="129.6" height="20.9" fill="#fc9291" stroke="none" stroke-width="2"/>
<rect x="375.6" y="1216.7" width="129.6" height="20.9" fill="#fee0e0" stroke="none" stroke-width="2"/>
<rect x="504.6" y="1216.7" width="129.6" height="20.9" fill="#ececfe" stroke="none" stroke-width="2"/>
<text transform="translate(107.5,1233.0) scale(1,1.05)" x="0" y="0" font-family="Liberation Serif" font-size="18.4" font-weight="bold" text-anchor="end" fill="#000">PYG</text>
<rect x="117.6" y="708.8" width="516.0" height="528.2" fill="none" stroke="#000" stroke-width="2"/>
<rect x="661.9" y="707.5" width="35.0" height="13.7" fill="#fb6866" stroke="none" stroke-width="2"/>
<rect x="661.9" y="720.7" width="35.0" height="13.7" fill="#fb706e" stroke="none" stroke-width="2"/>
<rect x="661.9" y="733.9" width="35.0" height="13.7" fill="#fc7776" stroke="none" stroke-width="2"/>
<rect x="661.9" y="747.0" width="35.0" height="13.7" fill="#fc7f7d" stroke="none" stroke-width="2"/>
<rect x="661.9" y="760.2" width="35.0" height="13.7" fill="#fc8785" stroke="none" stroke-width="2"/>
<rect x="661.9" y="773.4" width="35.0" height="13.7" fill="#fc8f8d" stroke="none" stroke-width="2"/>
<rect x="661.9" y="786.6" width="35.0" height="13.7" fill="#fc9695" stroke="none" stroke-width="2"/>
<rect x="661.9" y="799.7" width="35.0" height="13.7" fill="#fc9e9d" stroke="none" stroke-width="2"/>
<rect x="661.9" y="812.9" width="35.0" height="13.7" fill="#fda6a5" stroke="none" stroke-width="2"/>
<rect x="661.9" y="826.1" width="35.0" height="13.7" fill="#fdaead" stroke="none" stroke-width="2"/>
<rect x="661.9" y="839.3" width="35.0" height="13.7" fill="#fdb5b4" stroke="none" stroke-width="2"/>
<rect x="661.9" y="852.5" width="35.0" height="13.7" fill="#fdbdbc" stroke="none" stroke-width="2"/>
<rect x="661.9" y="865.6" width="35.0" height="13.7" fill="#fec5c4" stroke="none" stroke-width="2"/>
<rect x="661.9" y="878.8" width="35.0" height="13.7" fill="#fecdcc" stroke="none" stroke-width="2"/>
<rect x="661.9" y="892.0" width="35.0" height="13.7" fill="#fed4d4" stroke="none" stroke-width="2"/>
<rect x="661.9" y="905.2" width="35.0" height="13.7" fill="#fedcdc" stroke="none" stroke-width="2"/>
<rect x="661.9" y="918.3" width="35.0" height="13.7" fill="#fee4e4" stroke="none" stroke-width="2"/>
<rect x="661.9" y="931.5" width="35.0" height="13.7" fill="#feeceb" stroke="none" stroke-width="2"/>
<rect x="661.9" y="944.7" width="35.0" height="13.7" fill="#fff3f3" stroke="none" stroke-width="2"/>
<rect x="661.9" y="957.9" width="35.0" height="13.7" fill="#fffbfb" stroke="none" stroke-width="2"/>
<rect x="661.9" y="971.0" width="35.0" height="13.7" fill="#fafaff" stroke="none" stroke-width="2"/>
<rect x="661.9" y="984.2" width="35.0" height="13.7" fill="#f1f1fe" stroke="none" stroke-width="2"/>
<rect x="661.9" y="997.4" width="35.0" height="13.7" fill="#e8e8fe" stroke="none" stroke-width="2"/>
<rect x="661.9" y="1010.6" width="35.0" height="13.7" fill="#e1e1fe" stroke="none" stroke-width="2"/>
<rect x="661.9" y="1023.8" width="35.0" height="13.7" fill="#d9d9fe" stroke="none" stroke-width="2"/>
<rect x="661.9" y="1036.9" width="35.0" height="13.7" fill="#d2d2fd" stroke="none" stroke-width="2"/>
<rect x="661.9" y="1050.1" width="35.0" height="13.7" fill="#cbcbfd" stroke="none" stroke-width="2"/>
<rect x="661.9" y="1063.3" width="35.0" height="13.7" fill="#c4c4fd" stroke="none" stroke-width="2"/>
<rect x="661.9" y="1076.5" width="35.0" height="13.7" fill="#bdbdfd" stroke="none" stroke-width="2"/>
<rect x="661.9" y="1089.6" width="35.0" height="13.7" fill="#b6b6fc" stroke="none" stroke-width="2"/>
<rect x="661.9" y="1102.8" width="35.0" height="13.7" fill="#afaffc" stroke="none" stroke-width="2"/>
<rect x="661.9" y="1116.0" width="35.0" height="13.7" fill="#a8a8fc" stroke="none" stroke-width="2"/>
<rect x="661.9" y="1129.2" width="35.0" height="13.7" fill="#a2a2fc" stroke="none" stroke-width="2"/>
<rect x="661.9" y="1142.4" width="35.0" height="13.7" fill="#9b9bfb" stroke="none" stroke-width="2"/>
<rect x="661.9" y="1155.5" width="35.0" height="13.7" fill="#9595fb" stroke="none" stroke-width="2"/>
<rect x="661.9" y="1168.7" width="35.0" height="13.7" fill="#8e8efb" stroke="none" stroke-width="2"/>
<rect x="661.9" y="1181.9" width="35.0" height="13.7" fill="#8888fb" stroke="none" stroke-width="2"/>
<rect x="661.9" y="1195.1" width="35.0" height="13.7" fill="#8282fb" stroke="none" stroke-width="2"/>
<rect x="661.9" y="1208.2" width="35.0" height="13.7" fill="#7b7bfa" stroke="none" stroke-width="2"/>
<rect x="661.9" y="1221.4" width="35.0" height="13.7" fill="#7575fa" stroke="none" stroke-width="2"/>
<rect x="661.9" y="707.5" width="35.0" height="527.0999999999999" fill="none" stroke="#1a1a3a" stroke-width="1.6"/>
<rect x="696.9" y="706.7" width="8.0" height="1.6" fill="#000"/>
<text x="714.0" y="716.7" font-family="Liberation Sans" font-size="23.6" font-weight="normal" text-anchor="start" fill="#000">1.74</text>
<rect x="696.9" y="812.6" width="8.0" height="1.6" fill="#000"/>
<text x="718.0" y="822.6" font-family="Liberation Sans" font-size="23.6" font-weight="normal" text-anchor="start" fill="#000">1.04</text>
<rect x="696.9" y="917.5" width="8.0" height="1.6" fill="#000"/>
<text x="714.0" y="927.5" font-family="Liberation Sans" font-size="23.6" font-weight="normal" text-anchor="start" fill="#000">0.35</text>
<rect x="696.9" y="1023.0" width="8.0" height="1.6" fill="#000"/>
<text x="705.6" y="1028.0" font-family="Liberation Sans" font-size="23.6" font-weight="normal" text-anchor="start" fill="#000">−0.35</text>
<rect x="696.9" y="1128.0" width="8.0" height="1.6" fill="#000"/>
<text x="705.6" y="1136.0" font-family="Liberation Sans" font-size="23.6" font-weight="normal" text-anchor="start" fill="#000">−1.04</text>
<rect x="696.9" y="1233.8" width="8.0" height="1.6" fill="#000"/>
<text x="705.6" y="1243.8" font-family="Liberation Sans" font-size="23.6" font-weight="normal" text-anchor="start" fill="#000">−1.74</text>
<g transform="translate(138.9,1276.7) scale(1,1.12)">
<text x="0.0" y="0.0" font-family="Liberation Serif" font-size="32.2" font-weight="normal" text-anchor="start" fill="#000">Control</text>
</g>
<g transform="translate(252.7,1276.7) scale(1,1.12)">
<text x="0.0" y="0.0" font-family="Liberation Serif" font-size="32.2" font-weight="normal" text-anchor="start" fill="#000">Fe0-HA</text>
</g>
<g transform="translate(371,1276.7) scale(1,1.12)">
<text x="0.0" y="0.0" font-family="Liberation Serif" font-size="32.2" font-weight="normal" text-anchor="start" fill="#000">Fe(II)-HA</text>
</g>
<g transform="translate(505.4,1276.7) scale(1,1.12)">
<text x="0.0" y="0.0" font-family="Liberation Serif" font-size="32.2" font-weight="normal" text-anchor="start" fill="#000">Fe(III)-HA</text>
</g>
<rect x="875.6" y="709.0" width="129.2" height="21.7" fill="#fff3f2" stroke="none" stroke-width="2"/>
<rect x="1004.2" y="709.0" width="129.2" height="21.7" fill="#acacfc" stroke="none" stroke-width="2"/>
<rect x="1132.8" y="709.0" width="129.2" height="21.7" fill="#b6b6fc" stroke="none" stroke-width="2"/>
<rect x="1261.4" y="709.0" width="129.2" height="21.7" fill="#fc8b89" stroke="none" stroke-width="2"/>
<text transform="translate(867.6,725.8) scale(1,1.05)" x="0" y="0" font-family="Liberation Serif" font-size="18.4" font-weight="bold" text-anchor="end" fill="#000">eutD</text>
<rect x="875.6" y="730.1" width="129.2" height="21.7" fill="#b9b9fd" stroke="none" stroke-width="2"/>
<rect x="1004.2" y="730.1" width="129.2" height="21.7" fill="#fda2a1" stroke="none" stroke-width="2"/>
<rect x="1132.8" y="730.1" width="129.2" height="21.7" fill="#a5a5fc" stroke="none" stroke-width="2"/>
<rect x="1261.4" y="730.1" width="129.2" height="21.7" fill="#fec9c8" stroke="none" stroke-width="2"/>
<text transform="translate(867.6,746.9) scale(1,1.05)" x="0" y="0" font-family="Liberation Serif" font-size="18.4" font-weight="bold" text-anchor="end" fill="#000">porD</text>
<rect x="875.6" y="751.3" width="129.2" height="21.7" fill="#dadafe" stroke="none" stroke-width="2"/>
<rect x="1004.2" y="751.3" width="129.2" height="21.7" fill="#fc9a99" stroke="none" stroke-width="2"/>
<rect x="1132.8" y="751.3" width="129.2" height="21.7" fill="#fee0e0" stroke="none" stroke-width="2"/>
<rect x="1261.4" y="751.3" width="129.2" height="21.7" fill="#8989fb" stroke="none" stroke-width="2"/>
<text transform="translate(867.6,768.0) scale(1,1.05)" x="0" y="0" font-family="Liberation Serif" font-size="18.4" font-weight="bold" text-anchor="end" fill="#000">E1.2.1.10</text>
<rect x="875.6" y="772.4" width="129.2" height="21.7" fill="#fdaaa9" stroke="none" stroke-width="2"/>
<rect x="1004.2" y="772.4" width="129.2" height="21.7" fill="#fed0d0" stroke="none" stroke-width="2"/>
<rect x="1132.8" y="772.4" width="129.2" height="21.7" fill="#7878fa" stroke="none" stroke-width="2"/>
<rect x="1261.4" y="772.4" width="129.2" height="21.7" fill="#f5f5ff" stroke="none" stroke-width="2"/>
<text transform="translate(867.6,789.2) scale(1,1.05)" x="0" y="0" font-family="Liberation Serif" font-size="18.4" font-weight="bold" text-anchor="end" fill="#000">poxL</text>
<rect x="875.6" y="793.5" width="129.2" height="21.7" fill="#b2b2fc" stroke="none" stroke-width="2"/>
<rect x="1004.2" y="793.5" width="129.2" height="21.7" fill="#dadafe" stroke="none" stroke-width="2"/>
<rect x="1132.8" y="793.5" width="129.2" height="21.7" fill="#cecefd" stroke="none" stroke-width="2"/>
<rect x="1261.4" y="793.5" width="129.2" height="21.7" fill="#fb7472" stroke="none" stroke-width="2"/>
<text transform="translate(867.6,810.3) scale(1,1.05)" x="0" y="0" font-family="Liberation Serif" font-size="18.4" font-weight="bold" text-anchor="end" fill="#000">porG</text>
<rect x="875.6" y="814.7" width="129.2" height="21.7" fill="#a5a5fc" stroke="none" stroke-width="2"/>
<rect x="1004.2" y="814.7" width="129.2" height="21.7" fill="#fee8e7" stroke="none" stroke-width="2"/>
<rect x="1132.8" y="814.7" width="129.2" height="21.7" fill="#b9b9fd" stroke="none" stroke-width="2"/>
<rect x="1261.4" y="814.7" width="129.2" height="21.7" fill="#fc7b7a" stroke="none" stroke-width="2"/>
<text transform="translate(867.6,831.4) scale(1,1.05)" x="0" y="0" font-family="Liberation Serif" font-size="18.4" font-weight="bold" text-anchor="end" fill="#000">porA</text>
<rect x="875.6" y="835.8" width="129.2" height="21.7" fill="#8989fb" stroke="none" stroke-width="2"/>
<rect x="1004.2" y="835.8" width="129.2" height="21.7" fill="#fed8d8" stroke="none" stroke-width="2"/>
<rect x="1132.8" y="835.8" width="129.2" height="21.7" fill="#ddddfe" stroke="none" stroke-width="2"/>
<rect x="1261.4" y="835.8" width="129.2" height="21.7" fill="#fc8b89" stroke="none" stroke-width="2"/>
<text transform="translate(867.6,852.6) scale(1,1.05)" x="0" y="0" font-family="Liberation Serif" font-size="18.4" font-weight="bold" text-anchor="end" fill="#000">porB</text>
<rect x="875.6" y="856.9" width="129.2" height="21.7" fill="#7878fa" stroke="none" stroke-width="2"/>
<rect x="1004.2" y="856.9" width="129.2" height="21.7" fill="#fee8e7" stroke="none" stroke-width="2"/>
<rect x="1132.8" y="856.9" width="129.2" height="21.7" fill="#fdb2b0" stroke="none" stroke-width="2"/>
<rect x="1261.4" y="856.9" width="129.2" height="21.7" fill="#fed8d8" stroke="none" stroke-width="2"/>
<text transform="translate(867.6,873.7) scale(1,1.05)" x="0" y="0" font-family="Liberation Serif" font-size="18.4" font-weight="bold" text-anchor="end" fill="#000">ACH1</text>
<rect x="875.6" y="878.1" width="129.2" height="21.7" fill="#7e7efa" stroke="none" stroke-width="2"/>
<rect x="1004.2" y="878.1" width="129.2" height="21.7" fill="#ddddfe" stroke="none" stroke-width="2"/>
<rect x="1132.8" y="878.1" width="129.2" height="21.7" fill="#fdc1c0" stroke="none" stroke-width="2"/>
<rect x="1261.4" y="878.1" width="129.2" height="21.7" fill="#fdaaa9" stroke="none" stroke-width="2"/>
<text transform="translate(867.6,894.8) scale(1,1.05)" x="0" y="0" font-family="Liberation Serif" font-size="18.4" font-weight="bold" text-anchor="end" fill="#000">acyP</text>
<rect x="875.6" y="899.2" width="129.2" height="21.7" fill="#9b9bfb" stroke="none" stroke-width="2"/>
<rect x="1004.2" y="899.2" width="129.2" height="21.7" fill="#fed8d8" stroke="none" stroke-width="2"/>
<rect x="1132.8" y="899.2" width="129.2" height="21.7" fill="#c0c0fd" stroke="none" stroke-width="2"/>
<rect x="1261.4" y="899.2" width="129.2" height="21.7" fill="#fc8b89" stroke="none" stroke-width="2"/>
<text transform="translate(867.6,916.0) scale(1,1.05)" x="0" y="0" font-family="Liberation Serif" font-size="18.4" font-weight="bold" text-anchor="end" fill="#000">ALDH</text>
<rect x="875.6" y="920.3" width="129.2" height="21.7" fill="#9e9efc" stroke="none" stroke-width="2"/>
<rect x="1004.2" y="920.3" width="129.2" height="21.7" fill="#fc7b7a" stroke="none" stroke-width="2"/>
<rect x="1132.8" y="920.3" width="129.2" height="21.7" fill="#f9f9ff" stroke="none" stroke-width="2"/>
<rect x="1261.4" y="920.3" width="129.2" height="21.7" fill="#e4e4fe" stroke="none" stroke-width="2"/>
<text transform="translate(867.6,937.1) scale(1,1.05)" x="0" y="0" font-family="Liberation Serif" font-size="18.4" font-weight="bold" text-anchor="end" fill="#000">korD</text>
<rect x="875.6" y="941.5" width="129.2" height="21.7" fill="#9595fb" stroke="none" stroke-width="2"/>
<rect x="1004.2" y="941.5" width="129.2" height="21.7" fill="#fc9a99" stroke="none" stroke-width="2"/>
<rect x="1132.8" y="941.5" width="129.2" height="21.7" fill="#fec9c8" stroke="none" stroke-width="2"/>
<rect x="1261.4" y="941.5" width="129.2" height="21.7" fill="#cecefd" stroke="none" stroke-width="2"/>
<text transform="translate(867.6,958.2) scale(1,1.05)" x="0" y="0" font-family="Liberation Serif" font-size="18.4" font-weight="bold" text-anchor="end" fill="#000">pct</text>
<rect x="875.6" y="962.6" width="129.2" height="21.7" fill="#c0c0fd" stroke="none" stroke-width="2"/>
<rect x="1004.2" y="962.6" width="129.2" height="21.7" fill="#c7c7fd" stroke="none" stroke-width="2"/>
<rect x="1132.8" y="962.6" width="129.2" height="21.7" fill="#fc7b7a" stroke="none" stroke-width="2"/>
<rect x="1261.4" y="962.6" width="129.2" height="21.7" fill="#e9e9fe" stroke="none" stroke-width="2"/>
<text transform="translate(867.6,979.4) scale(1,1.05)" x="0" y="0" font-family="Liberation Serif" font-size="18.4" font-weight="bold" text-anchor="end" fill="#000">poxB</text>
<rect x="875.6" y="983.7" width="129.2" height="21.7" fill="#fb6f6d" stroke="none" stroke-width="2"/>
<rect x="1004.2" y="983.7" width="129.2" height="21.7" fill="#dadafe" stroke="none" stroke-width="2"/>
<rect x="1132.8" y="983.7" width="129.2" height="21.7" fill="#cecefd" stroke="none" stroke-width="2"/>
<rect x="1261.4" y="983.7" width="129.2" height="21.7" fill="#cecefd" stroke="none" stroke-width="2"/>
<text transform="translate(867.6,1000.5) scale(1,1.05)" x="0" y="0" font-family="Liberation Serif" font-size="18.4" font-weight="bold" text-anchor="end" fill="#000">korC</text>
<rect x="875.6" y="1004.8" width="129.2" height="21.7" fill="#fda2a1" stroke="none" stroke-width="2"/>
<rect x="1004.2" y="1004.8" width="129.2" height="21.7" fill="#fed0d0" stroke="none" stroke-width="2"/>
<rect x="1132.8" y="1004.8" width="129.2" height="21.7" fill="#c7c7fd" stroke="none" stroke-width="2"/>
<rect x="1261.4" y="1004.8" width="129.2" height="21.7" fill="#a5a5fc" stroke="none" stroke-width="2"/>
<text transform="translate(867.6,1021.6) scale(1,1.05)" x="0" y="0" font-family="Liberation Serif" font-size="18.4" font-weight="bold" text-anchor="end" fill="#000">pta</text>
<rect x="875.6" y="1026.0" width="129.2" height="21.7" fill="#8585fb" stroke="none" stroke-width="2"/>
<rect x="1004.2" y="1026.0" width="129.2" height="21.7" fill="#fec9c8" stroke="none" stroke-width="2"/>
<rect x="1132.8" y="1026.0" width="129.2" height="21.7" fill="#ececfe" stroke="none" stroke-width="2"/>
<rect x="1261.4" y="1026.0" width="129.2" height="21.7" fill="#fdb2b0" stroke="none" stroke-width="2"/>
<text transform="translate(867.6,1042.7) scale(1,1.05)" x="0" y="0" font-family="Liberation Serif" font-size="18.4" font-weight="bold" text-anchor="end" fill="#000">PDHA</text>
<rect x="875.6" y="1047.1" width="129.2" height="21.7" fill="#9898fb" stroke="none" stroke-width="2"/>
<rect x="1004.2" y="1047.1" width="129.2" height="21.7" fill="#fdaaa9" stroke="none" stroke-width="2"/>
<rect x="1132.8" y="1047.1" width="129.2" height="21.7" fill="#fdb9b8" stroke="none" stroke-width="2"/>
<rect x="1261.4" y="1047.1" width="129.2" height="21.7" fill="#cecefd" stroke="none" stroke-width="2"/>
<text transform="translate(867.6,1063.9) scale(1,1.05)" x="0" y="0" font-family="Liberation Serif" font-size="18.4" font-weight="bold" text-anchor="end" fill="#000">LDH</text>
<rect x="875.6" y="1068.2" width="129.2" height="21.7" fill="#f5f5ff" stroke="none" stroke-width="2"/>
<rect x="1004.2" y="1068.2" width="129.2" height="21.7" fill="#fc9a99" stroke="none" stroke-width="2"/>
<rect x="1132.8" y="1068.2" width="129.2" height="21.7" fill="#9292fb" stroke="none" stroke-width="2"/>
<rect x="1261.4" y="1068.2" width="129.2" height="21.7" fill="#fff7f7" stroke="none" stroke-width="2"/>
<text transform="translate(867.6,1085.0) scale(1,1.05)" x="0" y="0" font-family="Liberation Serif" font-size="18.4" font-weight="bold" text-anchor="end" fill="#000">korB</text>
<rect x="875.6" y="1089.4" width="129.2" height="21.7" fill="#8585fb" stroke="none" stroke-width="2"/>
<rect x="1004.2" y="1089.4" width="129.2" height="21.7" fill="#dadafe" stroke="none" stroke-width="2"/>
<rect x="1132.8" y="1089.4" width="129.2" height="21.7" fill="#fdaaa9" stroke="none" stroke-width="2"/>
<rect x="1261.4" y="1089.4" width="129.2" height="21.7" fill="#fdc1c0" stroke="none" stroke-width="2"/>
<text transform="translate(867.6,1106.1) scale(1,1.05)" x="0" y="0" font-family="Liberation Serif" font-size="18.4" font-weight="bold" text-anchor="end" fill="#000">aarC</text>
<rect x="875.6" y="1110.5" width="129.2" height="21.7" fill="#7878fa" stroke="none" stroke-width="2"/>
<rect x="1004.2" y="1110.5" width="129.2" height="21.7" fill="#fdc1c0" stroke="none" stroke-width="2"/>
<rect x="1132.8" y="1110.5" width="129.2" height="21.7" fill="#fdb9b8" stroke="none" stroke-width="2"/>
<rect x="1261.4" y="1110.5" width="129.2" height="21.7" fill="#f0f0fe" stroke="none" stroke-width="2"/>
<text transform="translate(867.6,1127.3) scale(1,1.05)" x="0" y="0" font-family="Liberation Serif" font-size="18.4" font-weight="bold" text-anchor="end" fill="#000">ackA</text>
<rect x="875.6" y="1131.6" width="129.2" height="21.7" fill="#f9f9ff" stroke="none" stroke-width="2"/>
<rect x="1004.2" y="1131.6" width="129.2" height="21.7" fill="#fdaaa9" stroke="none" stroke-width="2"/>
<rect x="1132.8" y="1131.6" width="129.2" height="21.7" fill="#8181fb" stroke="none" stroke-width="2"/>
<rect x="1261.4" y="1131.6" width="129.2" height="21.7" fill="#fff0ef" stroke="none" stroke-width="2"/>
<text transform="translate(867.6,1148.4) scale(1,1.05)" x="0" y="0" font-family="Liberation Serif" font-size="18.4" font-weight="bold" text-anchor="end" fill="#000">korA</text>
<rect x="875.6" y="1152.8" width="129.2" height="21.7" fill="#9898fb" stroke="none" stroke-width="2"/>
<rect x="1004.2" y="1152.8" width="129.2" height="21.7" fill="#fdaaa9" stroke="none" stroke-width="2"/>
<rect x="1132.8" y="1152.8" width="129.2" height="21.7" fill="#cecefd" stroke="none" stroke-width="2"/>
<rect x="1261.4" y="1152.8" width="129.2" height="21.7" fill="#fdb9b8" stroke="none" stroke-width="2"/>
<text transform="translate(867.6,1169.5) scale(1,1.05)" x="0" y="0" font-family="Liberation Serif" font-size="18.4" font-weight="bold" text-anchor="end" fill="#000">ACSS</text>
<rect x="875.6" y="1173.9" width="129.2" height="21.7" fill="#9292fb" stroke="none" stroke-width="2"/>
<rect x="1004.2" y="1173.9" width="129.2" height="21.7" fill="#d5d5fe" stroke="none" stroke-width="2"/>
<rect x="1132.8" y="1173.9" width="129.2" height="21.7" fill="#fc9a99" stroke="none" stroke-width="2"/>
<rect x="1261.4" y="1173.9" width="129.2" height="21.7" fill="#fed0d0" stroke="none" stroke-width="2"/>
<text transform="translate(867.6,1190.7) scale(1,1.05)" x="0" y="0" font-family="Liberation Serif" font-size="18.4" font-weight="bold" text-anchor="end" fill="#000">DLAT</text>
<rect x="875.6" y="1195.0" width="129.2" height="21.7" fill="#fffafa" stroke="none" stroke-width="2"/>
<rect x="1004.2" y="1195.0" width="129.2" height="21.7" fill="#ddddfe" stroke="none" stroke-width="2"/>
<rect x="1132.8" y="1195.0" width="129.2" height="21.7" fill="#9b9bfb" stroke="none" stroke-width="2"/>
<rect x="1261.4" y="1195.0" width="129.2" height="21.7" fill="#fc7b7a" stroke="none" stroke-width="2"/>
<text transform="translate(867.6,1211.8) scale(1,1.05)" x="0" y="0" font-family="Liberation Serif" font-size="18.4" font-weight="bold" text-anchor="end" fill="#000">adhE</text>
<rect x="875.6" y="1216.2" width="129.2" height="21.7" fill="#fee0e0" stroke="none" stroke-width="2"/>
<rect x="1004.2" y="1216.2" width="129.2" height="21.7" fill="#ececfe" stroke="none" stroke-width="2"/>
<rect x="1132.8" y="1216.2" width="129.2" height="21.7" fill="#7e7efa" stroke="none" stroke-width="2"/>
<rect x="1261.4" y="1216.2" width="129.2" height="21.7" fill="#fc9a99" stroke="none" stroke-width="2"/>
<text transform="translate(867.6,1232.9) scale(1,1.05)" x="0" y="0" font-family="Liberation Serif" font-size="18.4" font-weight="bold" text-anchor="end" fill="#000">pflD</text>
<rect x="875.6" y="709" width="514.4" height="528.3" fill="none" stroke="#000" stroke-width="2"/>
<rect x="1418.8" y="707.4" width="34.2" height="13.7" fill="#fb6866" stroke="none" stroke-width="2"/>
<rect x="1418.8" y="720.6" width="34.2" height="13.7" fill="#fb706e" stroke="none" stroke-width="2"/>
<rect x="1418.8" y="733.8" width="34.2" height="13.7" fill="#fc7776" stroke="none" stroke-width="2"/>
<rect x="1418.8" y="747.0" width="34.2" height="13.7" fill="#fc7f7d" stroke="none" stroke-width="2"/>
<rect x="1418.8" y="760.2" width="34.2" height="13.7" fill="#fc8785" stroke="none" stroke-width="2"/>
<rect x="1418.8" y="773.4" width="34.2" height="13.7" fill="#fc8f8d" stroke="none" stroke-width="2"/>
<rect x="1418.8" y="786.6" width="34.2" height="13.7" fill="#fc9695" stroke="none" stroke-width="2"/>
<rect x="1418.8" y="799.8" width="34.2" height="13.7" fill="#fc9e9d" stroke="none" stroke-width="2"/>
<rect x="1418.8" y="813.0" width="34.2" height="13.7" fill="#fda6a5" stroke="none" stroke-width="2"/>
<rect x="1418.8" y="826.2" width="34.2" height="13.7" fill="#fdaead" stroke="none" stroke-width="2"/>
<rect x="1418.8" y="839.4" width="34.2" height="13.7" fill="#fdb5b4" stroke="none" stroke-width="2"/>
<rect x="1418.8" y="852.6" width="34.2" height="13.7" fill="#fdbdbc" stroke="none" stroke-width="2"/>
<rect x="1418.8" y="865.8" width="34.2" height="13.7" fill="#fec5c4" stroke="none" stroke-width="2"/>
<rect x="1418.8" y="879.0" width="34.2" height="13.7" fill="#fecdcc" stroke="none" stroke-width="2"/>
<rect x="1418.8" y="892.2" width="34.2" height="13.7" fill="#fed4d4" stroke="none" stroke-width="2"/>
<rect x="1418.8" y="905.4" width="34.2" height="13.7" fill="#fedcdc" stroke="none" stroke-width="2"/>
<rect x="1418.8" y="918.6" width="34.2" height="13.7" fill="#fee4e4" stroke="none" stroke-width="2"/>
<rect x="1418.8" y="931.8" width="34.2" height="13.7" fill="#feeceb" stroke="none" stroke-width="2"/>
<rect x="1418.8" y="945.0" width="34.2" height="13.7" fill="#fff3f3" stroke="none" stroke-width="2"/>
<rect x="1418.8" y="958.2" width="34.2" height="13.7" fill="#fffbfb" stroke="none" stroke-width="2"/>
<rect x="1418.8" y="971.5" width="34.2" height="13.7" fill="#fafaff" stroke="none" stroke-width="2"/>
<rect x="1418.8" y="984.7" width="34.2" height="13.7" fill="#f1f1fe" stroke="none" stroke-width="2"/>
<rect x="1418.8" y="997.9" width="34.2" height="13.7" fill="#e8e8fe" stroke="none" stroke-width="2"/>
<rect x="1418.8" y="1011.1" width="34.2" height="13.7" fill="#e1e1fe" stroke="none" stroke-width="2"/>
<rect x="1418.8" y="1024.3" width="34.2" height="13.7" fill="#d9d9fe" stroke="none" stroke-width="2"/>
<rect x="1418.8" y="1037.5" width="34.2" height="13.7" fill="#d2d2fd" stroke="none" stroke-width="2"/>
<rect x="1418.8" y="1050.7" width="34.2" height="13.7" fill="#cbcbfd" stroke="none" stroke-width="2"/>
<rect x="1418.8" y="1063.9" width="34.2" height="13.7" fill="#c4c4fd" stroke="none" stroke-width="2"/>
<rect x="1418.8" y="1077.1" width="34.2" height="13.7" fill="#bdbdfd" stroke="none" stroke-width="2"/>
<rect x="1418.8" y="1090.3" width="34.2" height="13.7" fill="#b6b6fc" stroke="none" stroke-width="2"/>
<rect x="1418.8" y="1103.5" width="34.2" height="13.7" fill="#afaffc" stroke="none" stroke-width="2"/>
<rect x="1418.8" y="1116.7" width="34.2" height="13.7" fill="#a8a8fc" stroke="none" stroke-width="2"/>
<rect x="1418.8" y="1129.9" width="34.2" height="13.7" fill="#a2a2fc" stroke="none" stroke-width="2"/>
<rect x="1418.8" y="1143.1" width="34.2" height="13.7" fill="#9b9bfb" stroke="none" stroke-width="2"/>
<rect x="1418.8" y="1156.3" width="34.2" height="13.7" fill="#9595fb" stroke="none" stroke-width="2"/>
<rect x="1418.8" y="1169.5" width="34.2" height="13.7" fill="#8e8efb" stroke="none" stroke-width="2"/>
<rect x="1418.8" y="1182.7" width="34.2" height="13.7" fill="#8888fb" stroke="none" stroke-width="2"/>
<rect x="1418.8" y="1195.9" width="34.2" height="13.7" fill="#8282fb" stroke="none" stroke-width="2"/>
<rect x="1418.8" y="1209.1" width="34.2" height="13.7" fill="#7b7bfa" stroke="none" stroke-width="2"/>
<rect x="1418.8" y="1222.3" width="34.2" height="13.7" fill="#7575fa" stroke="none" stroke-width="2"/>
<rect x="1418.8" y="707.4" width="34.200000000000045" height="528.1" fill="none" stroke="#1a1a3a" stroke-width="1.6"/>
<rect x="1453.0" y="706.6" width="10.0" height="1.6" fill="#000"/>
<text x="1480.0" y="716.6" font-family="Liberation Sans" font-size="23.6" font-weight="normal" text-anchor="start" fill="#000">1.74</text>
<rect x="1453.0" y="812.2" width="10.0" height="1.6" fill="#000"/>
<text x="1480.0" y="822.2" font-family="Liberation Sans" font-size="23.6" font-weight="normal" text-anchor="start" fill="#000">1.05</text>
<rect x="1453.0" y="918.2" width="10.0" height="1.6" fill="#000"/>
<text x="1476.0" y="928.2" font-family="Liberation Sans" font-size="23.6" font-weight="normal" text-anchor="start" fill="#000">0.37</text>
<rect x="1453.0" y="1023.0" width="10.0" height="1.6" fill="#000"/>
<text x="1471.5" y="1030.0" font-family="Liberation Sans" font-size="23.6" font-weight="normal" text-anchor="start" fill="#000">−0.32</text>
<rect x="1453.0" y="1129.6" width="10.0" height="1.6" fill="#000"/>
<text x="1475.5" y="1139.6" font-family="Liberation Sans" font-size="23.6" font-weight="normal" text-anchor="start" fill="#000">−1.00</text>
<rect x="1453.0" y="1234.7" width="10.0" height="1.6" fill="#000"/>
<text x="1475.5" y="1244.7" font-family="Liberation Sans" font-size="23.6" font-weight="normal" text-anchor="start" fill="#000">−1.69</text>
<g transform="translate(896.4,1277) scale(1,1.12)">
<text x="0.0" y="0.0" font-family="Liberation Serif" font-size="32.2" font-weight="normal" text-anchor="start" fill="#000">Control</text>
</g>
<g transform="translate(1010,1277) scale(1,1.12)">
<text x="0.0" y="0.0" font-family="Liberation Serif" font-size="32.2" font-weight="normal" text-anchor="start" fill="#000">Fe0-HA</text>
</g>
<g transform="translate(1129,1277) scale(1,1.12)">
<text x="0.0" y="0.0" font-family="Liberation Serif" font-size="32.2" font-weight="normal" text-anchor="start" fill="#000">Fe(II)-HA</text>
</g>
<g transform="translate(1261.5,1277) scale(1,1.12)">
<text x="0.0" y="0.0" font-family="Liberation Serif" font-size="32.2" font-weight="normal" text-anchor="start" fill="#000">Fe(III)-HA</text>
</g>
<rect x="1633.5" y="709.0" width="129.1" height="24.6" fill="#cbcbfd" stroke="none" stroke-width="2"/>
<rect x="1762.0" y="709.0" width="129.1" height="24.6" fill="#fee0e0" stroke="none" stroke-width="2"/>
<rect x="1890.5" y="709.0" width="129.1" height="24.6" fill="#fc8b89" stroke="none" stroke-width="2"/>
<rect x="2019.0" y="709.0" width="129.1" height="24.6" fill="#a5a5fc" stroke="none" stroke-width="2"/>
<text transform="translate(1624.9,727.2) scale(1,1.05)" x="0" y="0" font-family="Liberation Serif" font-size="18.4" font-weight="bold" text-anchor="end" fill="#000">buk</text>
<rect x="1633.5" y="733.0" width="129.1" height="24.6" fill="#9292fb" stroke="none" stroke-width="2"/>
<rect x="1762.0" y="733.0" width="129.1" height="24.6" fill="#fec9c8" stroke="none" stroke-width="2"/>
<rect x="1890.5" y="733.0" width="129.1" height="24.6" fill="#fda2a1" stroke="none" stroke-width="2"/>
<rect x="2019.0" y="733.0" width="129.1" height="24.6" fill="#cecefd" stroke="none" stroke-width="2"/>
<text transform="translate(1624.9,751.2) scale(1,1.05)" x="0" y="0" font-family="Liberation Serif" font-size="18.4" font-weight="bold" text-anchor="end" fill="#000">ptb</text>
<rect x="1633.5" y="757.0" width="129.1" height="24.6" fill="#a8a8fc" stroke="none" stroke-width="2"/>
<rect x="1762.0" y="757.0" width="129.1" height="24.6" fill="#fff0ef" stroke="none" stroke-width="2"/>
<rect x="1890.5" y="757.0" width="129.1" height="24.6" fill="#fc807e" stroke="none" stroke-width="2"/>
<rect x="2019.0" y="757.0" width="129.1" height="24.6" fill="#b9b9fd" stroke="none" stroke-width="2"/>
<text transform="translate(1624.9,775.2) scale(1,1.05)" x="0" y="0" font-family="Liberation Serif" font-size="18.4" font-weight="bold" text-anchor="end" fill="#000">atoA</text>
<rect x="1633.5" y="780.9" width="129.1" height="24.6" fill="#a2a2fc" stroke="none" stroke-width="2"/>
<rect x="1762.0" y="780.9" width="129.1" height="24.6" fill="#fc8685" stroke="none" stroke-width="2"/>
<rect x="1890.5" y="780.9" width="129.1" height="24.6" fill="#fee8e7" stroke="none" stroke-width="2"/>
<rect x="2019.0" y="780.9" width="129.1" height="24.6" fill="#c0c0fd" stroke="none" stroke-width="2"/>
<text transform="translate(1624.9,799.1) scale(1,1.05)" x="0" y="0" font-family="Liberation Serif" font-size="18.4" font-weight="bold" text-anchor="end" fill="#000">atoD</text>
<rect x="1633.5" y="804.9" width="129.1" height="24.6" fill="#fdc1c0" stroke="none" stroke-width="2"/>
<rect x="1762.0" y="804.9" width="129.1" height="24.6" fill="#fee8e7" stroke="none" stroke-width="2"/>
<rect x="1890.5" y="804.9" width="129.1" height="24.6" fill="#ffffff" stroke="none" stroke-width="2"/>
<rect x="2019.0" y="804.9" width="129.1" height="24.6" fill="#fec9c8" stroke="none" stroke-width="2"/>
<text transform="translate(1624.9,823.1) scale(1,1.05)" x="0" y="0" font-family="Liberation Serif" font-size="18.4" font-weight="bold" text-anchor="end" fill="#000">ACADS</text>
<rect x="1633.5" y="828.9" width="129.1" height="24.6" fill="#8989fb" stroke="none" stroke-width="2"/>
<rect x="1762.0" y="828.9" width="129.1" height="24.6" fill="#fc8685" stroke="none" stroke-width="2"/>
<rect x="1890.5" y="828.9" width="129.1" height="24.6" fill="#e4e4fe" stroke="none" stroke-width="2"/>
<rect x="2019.0" y="828.9" width="129.1" height="24.6" fill="#fff0ef" stroke="none" stroke-width="2"/>
<text transform="translate(1624.9,847.1) scale(1,1.05)" x="0" y="0" font-family="Liberation Serif" font-size="18.4" font-weight="bold" text-anchor="end" fill="#000">fabV</text>
<rect x="1633.5" y="852.9" width="129.1" height="24.6" fill="#8b8bfb" stroke="none" stroke-width="2"/>
<rect x="1762.0" y="852.9" width="129.1" height="24.6" fill="#fed8d8" stroke="none" stroke-width="2"/>
<rect x="1890.5" y="852.9" width="129.1" height="24.6" fill="#dadafe" stroke="none" stroke-width="2"/>
<rect x="2019.0" y="852.9" width="129.1" height="24.6" fill="#fda2a1" stroke="none" stroke-width="2"/>
<text transform="translate(1624.9,871.1) scale(1,1.05)" x="0" y="0" font-family="Liberation Serif" font-size="18.4" font-weight="bold" text-anchor="end" fill="#000">abfD</text>
<rect x="1633.5" y="876.9" width="129.1" height="24.6" fill="#ddddfe" stroke="none" stroke-width="2"/>
<rect x="1762.0" y="876.9" width="129.1" height="24.6" fill="#c3c3fd" stroke="none" stroke-width="2"/>
<rect x="1890.5" y="876.9" width="129.1" height="24.6" fill="#c3c3fd" stroke="none" stroke-width="2"/>
<rect x="2019.0" y="876.9" width="129.1" height="24.6" fill="#fb7472" stroke="none" stroke-width="2"/>
<text transform="translate(1624.9,895.1) scale(1,1.05)" x="0" y="0" font-family="Liberation Serif" font-size="18.4" font-weight="bold" text-anchor="end" fill="#000">cat2</text>
<rect x="1633.5" y="900.9" width="129.1" height="24.6" fill="#fdb2b0" stroke="none" stroke-width="2"/>
<rect x="1762.0" y="900.9" width="129.1" height="24.6" fill="#d5d5fe" stroke="none" stroke-width="2"/>
<rect x="1890.5" y="900.9" width="129.1" height="24.6" fill="#8b8bfb" stroke="none" stroke-width="2"/>
<rect x="2019.0" y="900.9" width="129.1" height="24.6" fill="#fdb9b8" stroke="none" stroke-width="2"/>
<text transform="translate(1624.9,919.0) scale(1,1.05)" x="0" y="0" font-family="Liberation Serif" font-size="18.4" font-weight="bold" text-anchor="end" fill="#000">yihU</text>
<rect x="1633.5" y="924.8" width="129.1" height="24.6" fill="#8b8bfb" stroke="none" stroke-width="2"/>
<rect x="1762.0" y="924.8" width="129.1" height="24.6" fill="#fed0d0" stroke="none" stroke-width="2"/>
<rect x="1890.5" y="924.8" width="129.1" height="24.6" fill="#d5d5fe" stroke="none" stroke-width="2"/>
<rect x="2019.0" y="924.8" width="129.1" height="24.6" fill="#fc9a99" stroke="none" stroke-width="2"/>
<text transform="translate(1624.9,943.0) scale(1,1.05)" x="0" y="0" font-family="Liberation Serif" font-size="18.4" font-weight="bold" text-anchor="end" fill="#000">POP2</text>
<rect x="1633.5" y="948.8" width="129.1" height="24.6" fill="#9292fb" stroke="none" stroke-width="2"/>
<rect x="1762.0" y="948.8" width="129.1" height="24.6" fill="#e9e9fe" stroke="none" stroke-width="2"/>
<rect x="1890.5" y="948.8" width="129.1" height="24.6" fill="#fafaff" stroke="none" stroke-width="2"/>
<rect x="2019.0" y="948.8" width="129.1" height="24.6" fill="#fb7775" stroke="none" stroke-width="2"/>
<text transform="translate(1624.9,967.0) scale(1,1.05)" x="0" y="0" font-family="Liberation Serif" font-size="18.4" font-weight="bold" text-anchor="end" fill="#000">gabT</text>
<rect x="1633.5" y="972.8" width="129.1" height="24.6" fill="#fec9c8" stroke="none" stroke-width="2"/>
<rect x="1762.0" y="972.8" width="129.1" height="24.6" fill="#fdb9b8" stroke="none" stroke-width="2"/>
<rect x="1890.5" y="972.8" width="129.1" height="24.6" fill="#7e7efa" stroke="none" stroke-width="2"/>
<rect x="2019.0" y="972.8" width="129.1" height="24.6" fill="#e0e0fe" stroke="none" stroke-width="2"/>
<text transform="translate(1624.9,991.0) scale(1,1.05)" x="0" y="0" font-family="Liberation Serif" font-size="18.4" font-weight="bold" text-anchor="end" fill="#000">gadB</text>
<rect x="1633.5" y="996.8" width="129.1" height="24.6" fill="#a5a5fc" stroke="none" stroke-width="2"/>
<rect x="1762.0" y="996.8" width="129.1" height="24.6" fill="#c0c0fd" stroke="none" stroke-width="2"/>
<rect x="1890.5" y="996.8" width="129.1" height="24.6" fill="#fc9a99" stroke="none" stroke-width="2"/>
<rect x="2019.0" y="996.8" width="129.1" height="24.6" fill="#fed8d8" stroke="none" stroke-width="2"/>
<text transform="translate(1624.9,1015.0) scale(1,1.05)" x="0" y="0" font-family="Liberation Serif" font-size="18.4" font-weight="bold" text-anchor="end" fill="#000">paaF</text>
<rect x="1633.5" y="1020.8" width="129.1" height="24.6" fill="#fff7f7" stroke="none" stroke-width="2"/>
<rect x="1762.0" y="1020.8" width="129.1" height="24.6" fill="#ffffff" stroke="none" stroke-width="2"/>
<rect x="1890.5" y="1020.8" width="129.1" height="24.6" fill="#fdc1c0" stroke="none" stroke-width="2"/>
<rect x="2019.0" y="1020.8" width="129.1" height="24.6" fill="#fec9c8" stroke="none" stroke-width="2"/>
<text transform="translate(1624.9,1039.0) scale(1,1.05)" x="0" y="0" font-family="Liberation Serif" font-size="18.4" font-weight="bold" text-anchor="end" fill="#000">croR</text>
<rect x="1633.5" y="1044.7" width="129.1" height="24.6" fill="#acacfc" stroke="none" stroke-width="2"/>
<rect x="1762.0" y="1044.7" width="129.1" height="24.6" fill="#a5a5fc" stroke="none" stroke-width="2"/>
<rect x="1890.5" y="1044.7" width="129.1" height="24.6" fill="#fdaaa9" stroke="none" stroke-width="2"/>
<rect x="2019.0" y="1044.7" width="129.1" height="24.6" fill="#fdb9b8" stroke="none" stroke-width="2"/>
<text transform="translate(1624.9,1062.9) scale(1,1.05)" x="0" y="0" font-family="Liberation Serif" font-size="18.4" font-weight="bold" text-anchor="end" fill="#000">phbB</text>
<rect x="1633.5" y="1068.7" width="129.1" height="24.6" fill="#acacfc" stroke="none" stroke-width="2"/>
<rect x="1762.0" y="1068.7" width="129.1" height="24.6" fill="#b9b9fd" stroke="none" stroke-width="2"/>
<rect x="1890.5" y="1068.7" width="129.1" height="24.6" fill="#fdb9b8" stroke="none" stroke-width="2"/>
<rect x="2019.0" y="1068.7" width="129.1" height="24.6" fill="#fdaaa9" stroke="none" stroke-width="2"/>
<text transform="translate(1624.9,1086.9) scale(1,1.05)" x="0" y="0" font-family="Liberation Serif" font-size="18.4" font-weight="bold" text-anchor="end" fill="#000">fadJ</text>
<rect x="1633.5" y="1092.7" width="129.1" height="24.6" fill="#9292fb" stroke="none" stroke-width="2"/>
<rect x="1762.0" y="1092.7" width="129.1" height="24.6" fill="#fee8e7" stroke="none" stroke-width="2"/>
<rect x="1890.5" y="1092.7" width="129.1" height="24.6" fill="#fc8b89" stroke="none" stroke-width="2"/>
<rect x="2019.0" y="1092.7" width="129.1" height="24.6" fill="#cecefd" stroke="none" stroke-width="2"/>
<text transform="translate(1624.9,1110.9) scale(1,1.05)" x="0" y="0" font-family="Liberation Serif" font-size="18.4" font-weight="bold" text-anchor="end" fill="#000">atoB</text>
<rect x="1633.5" y="1116.7" width="129.1" height="24.6" fill="#b2b2fc" stroke="none" stroke-width="2"/>
<rect x="1762.0" y="1116.7" width="129.1" height="24.6" fill="#dadafe" stroke="none" stroke-width="2"/>
<rect x="1890.5" y="1116.7" width="129.1" height="24.6" fill="#cecefd" stroke="none" stroke-width="2"/>
<rect x="2019.0" y="1116.7" width="129.1" height="24.6" fill="#fb7472" stroke="none" stroke-width="2"/>
<text transform="translate(1624.9,1134.9) scale(1,1.05)" x="0" y="0" font-family="Liberation Serif" font-size="18.4" font-weight="bold" text-anchor="end" fill="#000">porG</text>
<rect x="1633.5" y="1140.7" width="129.1" height="24.6" fill="#b9b9fd" stroke="none" stroke-width="2"/>
<rect x="1762.0" y="1140.7" width="129.1" height="24.6" fill="#fda2a1" stroke="none" stroke-width="2"/>
<rect x="1890.5" y="1140.7" width="129.1" height="24.6" fill="#acacfc" stroke="none" stroke-width="2"/>
<rect x="2019.0" y="1140.7" width="129.1" height="24.6" fill="#fdc1c0" stroke="none" stroke-width="2"/>
<text transform="translate(1624.9,1158.9) scale(1,1.05)" x="0" y="0" font-family="Liberation Serif" font-size="18.4" font-weight="bold" text-anchor="end" fill="#000">porD</text>
<rect x="1633.5" y="1164.7" width="129.1" height="24.6" fill="#8e8efb" stroke="none" stroke-width="2"/>
<rect x="1762.0" y="1164.7" width="129.1" height="24.6" fill="#fee0e0" stroke="none" stroke-width="2"/>
<rect x="1890.5" y="1164.7" width="129.1" height="24.6" fill="#ddddfe" stroke="none" stroke-width="2"/>
<rect x="2019.0" y="1164.7" width="129.1" height="24.6" fill="#fc9291" stroke="none" stroke-width="2"/>
<text transform="translate(1624.9,1182.8) scale(1,1.05)" x="0" y="0" font-family="Liberation Serif" font-size="18.4" font-weight="bold" text-anchor="end" fill="#000">porB</text>
<rect x="1633.5" y="1188.6" width="129.1" height="24.6" fill="#acacfc" stroke="none" stroke-width="2"/>
<rect x="1762.0" y="1188.6" width="129.1" height="24.6" fill="#ffecec" stroke="none" stroke-width="2"/>
<rect x="1890.5" y="1188.6" width="129.1" height="24.6" fill="#b9b9fd" stroke="none" stroke-width="2"/>
<rect x="2019.0" y="1188.6" width="129.1" height="24.6" fill="#fc8381" stroke="none" stroke-width="2"/>
<text transform="translate(1624.9,1206.8) scale(1,1.05)" x="0" y="0" font-family="Liberation Serif" font-size="18.4" font-weight="bold" text-anchor="end" fill="#000">porA</text>
<rect x="1633.5" y="1212.6" width="129.1" height="24.6" fill="#fee0e0" stroke="none" stroke-width="2"/>
<rect x="1762.0" y="1212.6" width="129.1" height="24.6" fill="#e9e9fe" stroke="none" stroke-width="2"/>
<rect x="1890.5" y="1212.6" width="129.1" height="24.6" fill="#7e7efa" stroke="none" stroke-width="2"/>
<rect x="2019.0" y="1212.6" width="129.1" height="24.6" fill="#fc9a99" stroke="none" stroke-width="2"/>
<text transform="translate(1624.9,1230.8) scale(1,1.05)" x="0" y="0" font-family="Liberation Serif" font-size="18.4" font-weight="bold" text-anchor="end" fill="#000">pflD</text>
<rect x="1633.5" y="709" width="514.0" height="527.5999999999999" fill="none" stroke="#000" stroke-width="2"/>
<rect x="2176.5" y="707.2" width="34.5" height="13.7" fill="#fb6866" stroke="none" stroke-width="2"/>
<rect x="2176.5" y="720.4" width="34.5" height="13.7" fill="#fb706e" stroke="none" stroke-width="2"/>
<rect x="2176.5" y="733.6" width="34.5" height="13.7" fill="#fc7776" stroke="none" stroke-width="2"/>
<rect x="2176.5" y="746.8" width="34.5" height="13.7" fill="#fc7f7d" stroke="none" stroke-width="2"/>
<rect x="2176.5" y="760.0" width="34.5" height="13.7" fill="#fc8785" stroke="none" stroke-width="2"/>
<rect x="2176.5" y="773.2" width="34.5" height="13.7" fill="#fc8f8d" stroke="none" stroke-width="2"/>
<rect x="2176.5" y="786.4" width="34.5" height="13.7" fill="#fc9695" stroke="none" stroke-width="2"/>
<rect x="2176.5" y="799.6" width="34.5" height="13.7" fill="#fc9e9d" stroke="none" stroke-width="2"/>
<rect x="2176.5" y="812.8" width="34.5" height="13.7" fill="#fda6a5" stroke="none" stroke-width="2"/>
<rect x="2176.5" y="826.0" width="34.5" height="13.7" fill="#fdaead" stroke="none" stroke-width="2"/>
<rect x="2176.5" y="839.2" width="34.5" height="13.7" fill="#fdb5b4" stroke="none" stroke-width="2"/>
<rect x="2176.5" y="852.3" width="34.5" height="13.7" fill="#fdbdbc" stroke="none" stroke-width="2"/>
<rect x="2176.5" y="865.5" width="34.5" height="13.7" fill="#fec5c4" stroke="none" stroke-width="2"/>
<rect x="2176.5" y="878.7" width="34.5" height="13.7" fill="#fecdcc" stroke="none" stroke-width="2"/>
<rect x="2176.5" y="891.9" width="34.5" height="13.7" fill="#fed4d4" stroke="none" stroke-width="2"/>
<rect x="2176.5" y="905.1" width="34.5" height="13.7" fill="#fedcdc" stroke="none" stroke-width="2"/>
<rect x="2176.5" y="918.3" width="34.5" height="13.7" fill="#fee4e4" stroke="none" stroke-width="2"/>
<rect x="2176.5" y="931.5" width="34.5" height="13.7" fill="#feeceb" stroke="none" stroke-width="2"/>
<rect x="2176.5" y="944.7" width="34.5" height="13.7" fill="#fff3f3" stroke="none" stroke-width="2"/>
<rect x="2176.5" y="957.9" width="34.5" height="13.7" fill="#fffbfb" stroke="none" stroke-width="2"/>
<rect x="2176.5" y="971.1" width="34.5" height="13.7" fill="#fafaff" stroke="none" stroke-width="2"/>
<rect x="2176.5" y="984.3" width="34.5" height="13.7" fill="#f1f1fe" stroke="none" stroke-width="2"/>
<rect x="2176.5" y="997.5" width="34.5" height="13.7" fill="#e8e8fe" stroke="none" stroke-width="2"/>
<rect x="2176.5" y="1010.7" width="34.5" height="13.7" fill="#e1e1fe" stroke="none" stroke-width="2"/>
<rect x="2176.5" y="1023.9" width="34.5" height="13.7" fill="#d9d9fe" stroke="none" stroke-width="2"/>
<rect x="2176.5" y="1037.1" width="34.5" height="13.7" fill="#d2d2fd" stroke="none" stroke-width="2"/>
<rect x="2176.5" y="1050.3" width="34.5" height="13.7" fill="#cbcbfd" stroke="none" stroke-width="2"/>
<rect x="2176.5" y="1063.5" width="34.5" height="13.7" fill="#c4c4fd" stroke="none" stroke-width="2"/>
<rect x="2176.5" y="1076.7" width="34.5" height="13.7" fill="#bdbdfd" stroke="none" stroke-width="2"/>
<rect x="2176.5" y="1089.9" width="34.5" height="13.7" fill="#b6b6fc" stroke="none" stroke-width="2"/>
<rect x="2176.5" y="1103.0" width="34.5" height="13.7" fill="#afaffc" stroke="none" stroke-width="2"/>
<rect x="2176.5" y="1116.2" width="34.5" height="13.7" fill="#a8a8fc" stroke="none" stroke-width="2"/>
<rect x="2176.5" y="1129.4" width="34.5" height="13.7" fill="#a2a2fc" stroke="none" stroke-width="2"/>
<rect x="2176.5" y="1142.6" width="34.5" height="13.7" fill="#9b9bfb" stroke="none" stroke-width="2"/>
<rect x="2176.5" y="1155.8" width="34.5" height="13.7" fill="#9595fb" stroke="none" stroke-width="2"/>
<rect x="2176.5" y="1169.0" width="34.5" height="13.7" fill="#8e8efb" stroke="none" stroke-width="2"/>
<rect x="2176.5" y="1182.2" width="34.5" height="13.7" fill="#8888fb" stroke="none" stroke-width="2"/>
<rect x="2176.5" y="1195.4" width="34.5" height="13.7" fill="#8282fb" stroke="none" stroke-width="2"/>
<rect x="2176.5" y="1208.6" width="34.5" height="13.7" fill="#7b7bfa" stroke="none" stroke-width="2"/>
<rect x="2176.5" y="1221.8" width="34.5" height="13.7" fill="#7575fa" stroke="none" stroke-width="2"/>
<rect x="2176.5" y="707.2" width="34.5" height="527.8" fill="none" stroke="#1a1a3a" stroke-width="1.6"/>
<rect x="2211.0" y="706.4" width="10.0" height="1.6" fill="#000"/>
<text x="2231.0" y="716.4" font-family="Liberation Sans" font-size="23.6" font-weight="normal" text-anchor="start" fill="#000">1.74</text>
<rect x="2211.0" y="813.2" width="10.0" height="1.6" fill="#000"/>
<text x="2231.0" y="823.2" font-family="Liberation Sans" font-size="23.6" font-weight="normal" text-anchor="start" fill="#000">1.05</text>
<rect x="2211.0" y="916.9" width="10.0" height="1.6" fill="#000"/>
<text x="2228.0" y="925.9" font-family="Liberation Sans" font-size="23.6" font-weight="normal" text-anchor="start" fill="#000">0.37</text>
<rect x="2211.0" y="1022.7" width="10.0" height="1.6" fill="#000"/>
<text x="2221.0" y="1030.7" font-family="Liberation Sans" font-size="23.6" font-weight="normal" text-anchor="start" fill="#000">−0.32</text>
<rect x="2211.0" y="1129.6" width="10.0" height="1.6" fill="#000"/>
<text x="2221.0" y="1137.6" font-family="Liberation Sans" font-size="23.6" font-weight="normal" text-anchor="start" fill="#000">−1.00</text>
<rect x="2211.0" y="1234.2" width="10.0" height="1.6" fill="#000"/>
<text x="2221.0" y="1239.2" font-family="Liberation Sans" font-size="23.6" font-weight="normal" text-anchor="start" fill="#000">−1.69</text>
<g transform="translate(1653,1276.7) scale(1,1.12)">
<text x="0.0" y="0.0" font-family="Liberation Serif" font-size="32.2" font-weight="normal" text-anchor="start" fill="#000">Control</text>
</g>
<g transform="translate(1767,1276.7) scale(1,1.12)">
<text x="0.0" y="0.0" font-family="Liberation Serif" font-size="32.2" font-weight="normal" text-anchor="start" fill="#000">Fe0-HA</text>
</g>
<g transform="translate(1884,1276.7) scale(1,1.12)">
<text x="0.0" y="0.0" font-family="Liberation Serif" font-size="32.2" font-weight="normal" text-anchor="start" fill="#000">Fe(II)-HA</text>
</g>
<g transform="translate(2022,1276.7) scale(1,1.12)">
<text x="0.0" y="0.0" font-family="Liberation Serif" font-size="32.2" font-weight="normal" text-anchor="start" fill="#000">Fe(III)-HA</text>
</g>
<text x="24.0" y="722.5" font-family="Liberation Serif" font-size="41.6" font-weight="normal" text-anchor="start" fill="#000">(b)</text>
<rect x="727.5" y="1032.6" width="3.5" height="1.3" fill="#555"/>
<rect x="738.5" y="1032.6" width="2.0" height="1.3" fill="#555"/>
<rect x="743.5" y="1032.6" width="4.5" height="1.3" fill="#555"/>
<rect x="757.0" y="1032.6" width="4.5" height="1.3" fill="#555"/>
<rect x="2241.0" y="1245.0" width="7.4" height="1.2" fill="#777"/>
<rect x="2253.5" y="1245.0" width="1.8" height="1.2" fill="#777"/>
<rect x="2262.0" y="1245.0" width="4.8" height="1.2" fill="#777"/>
<rect x="2272.0" y="1245.0" width="3.0" height="1.2" fill="#777"/>
<text x="771.0" y="730.5" font-family="Liberation Serif" font-size="43" font-weight="normal" text-anchor="start" fill="#000">(c)</text>
<text x="1530.0" y="730.5" font-family="Liberation Serif" font-size="42.5" font-weight="normal" text-anchor="start" fill="#000">(d)</text>
</svg></body></html>
